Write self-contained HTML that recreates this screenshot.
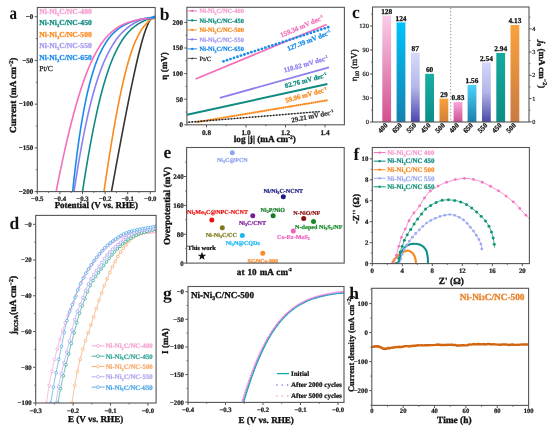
<!DOCTYPE html>
<html><head><meta charset="utf-8"><style>
html,body{margin:0;padding:0;background:#fff;}
svg{display:block;font-family:"Liberation Serif", serif;text-rendering:geometricPrecision;filter:blur(0.3px);}
</style></head><body>
<svg width="550" height="430" viewBox="0 0 550 430">
<rect width="550" height="430" fill="#fff"/>
<text transform="translate(9.6,18.7) scale(0.86,1.03)" font-size="17.5" fill="#111" font-weight="bold">a</text>
<line x1="34.70" y1="16.70" x2="37.30" y2="16.70" stroke="#555" stroke-width="1" />
<text x="33.30" y="18.80" font-size="7.0" text-anchor="end" fill="#222" stroke="#222" stroke-width="0.245" font-weight="bold" >−0</text>
<line x1="34.70" y1="60.42" x2="37.30" y2="60.42" stroke="#555" stroke-width="1" />
<text x="33.30" y="62.52" font-size="7.0" text-anchor="end" fill="#222" stroke="#222" stroke-width="0.245" font-weight="bold" >−50</text>
<line x1="34.70" y1="104.15" x2="37.30" y2="104.15" stroke="#555" stroke-width="1" />
<text x="33.30" y="106.25" font-size="7.0" text-anchor="end" fill="#222" stroke="#222" stroke-width="0.245" font-weight="bold" >−100</text>
<line x1="34.70" y1="147.88" x2="37.30" y2="147.88" stroke="#555" stroke-width="1" />
<text x="33.30" y="149.97" font-size="7.0" text-anchor="end" fill="#222" stroke="#222" stroke-width="0.245" font-weight="bold" >−150</text>
<line x1="34.70" y1="191.60" x2="37.30" y2="191.60" stroke="#555" stroke-width="1" />
<text x="33.30" y="193.70" font-size="7.0" text-anchor="end" fill="#222" stroke="#222" stroke-width="0.245" font-weight="bold" >−200</text>
<line x1="35.80" y1="38.56" x2="37.30" y2="38.56" stroke="#555" stroke-width="0.8" />
<line x1="35.80" y1="82.29" x2="37.30" y2="82.29" stroke="#555" stroke-width="0.8" />
<line x1="35.80" y1="126.01" x2="37.30" y2="126.01" stroke="#555" stroke-width="0.8" />
<line x1="35.80" y1="169.74" x2="37.30" y2="169.74" stroke="#555" stroke-width="0.8" />
<line x1="37.30" y1="191.60" x2="37.30" y2="194.20" stroke="#555" stroke-width="1" />
<text x="37.30" y="200.60" font-size="6.8" text-anchor="middle" fill="#222" stroke="#222" stroke-width="0.238" font-weight="bold" >−0.5</text>
<line x1="59.90" y1="191.60" x2="59.90" y2="194.20" stroke="#555" stroke-width="1" />
<text x="59.90" y="200.60" font-size="6.8" text-anchor="middle" fill="#222" stroke="#222" stroke-width="0.238" font-weight="bold" >−0.4</text>
<line x1="82.50" y1="191.60" x2="82.50" y2="194.20" stroke="#555" stroke-width="1" />
<text x="82.50" y="200.60" font-size="6.8" text-anchor="middle" fill="#222" stroke="#222" stroke-width="0.238" font-weight="bold" >−0.3</text>
<line x1="105.10" y1="191.60" x2="105.10" y2="194.20" stroke="#555" stroke-width="1" />
<text x="105.10" y="200.60" font-size="6.8" text-anchor="middle" fill="#222" stroke="#222" stroke-width="0.238" font-weight="bold" >−0.2</text>
<line x1="127.70" y1="191.60" x2="127.70" y2="194.20" stroke="#555" stroke-width="1" />
<text x="127.70" y="200.60" font-size="6.8" text-anchor="middle" fill="#222" stroke="#222" stroke-width="0.238" font-weight="bold" >−0.1</text>
<line x1="150.30" y1="191.60" x2="150.30" y2="194.20" stroke="#555" stroke-width="1" />
<text x="150.30" y="200.60" font-size="6.8" text-anchor="middle" fill="#222" stroke="#222" stroke-width="0.238" font-weight="bold" >−0.0</text>
<line x1="48.60" y1="191.60" x2="48.60" y2="193.10" stroke="#555" stroke-width="0.8" />
<line x1="71.20" y1="191.60" x2="71.20" y2="193.10" stroke="#555" stroke-width="0.8" />
<line x1="93.80" y1="191.60" x2="93.80" y2="193.10" stroke="#555" stroke-width="0.8" />
<line x1="116.40" y1="191.60" x2="116.40" y2="193.10" stroke="#555" stroke-width="0.8" />
<line x1="139.00" y1="191.60" x2="139.00" y2="193.10" stroke="#555" stroke-width="0.8" />
<text x="96.30" y="208.40" font-size="9" text-anchor="middle" fill="#111" stroke="#111" stroke-width="0.315" font-weight="bold" >Potential (V vs. RHE)</text>
<text transform="translate(16,95.3) rotate(-90)" font-size="9.3" text-anchor="middle" fill="#111" font-weight="bold" stroke="#111" stroke-width="0.326">Current (mA cm<tspan font-size="6" dy="-3.5">−2</tspan><tspan dy="3.5">)</tspan></text>
<clipPath id="ca"><rect x="37.3" y="7.5" width="117.89999999999999" height="184.1"/></clipPath>
<g clip-path="url(#ca)">
<path d="M111.42,191.80 L111.78,189.80 L112.14,187.80 L112.50,185.80 L112.87,183.80 L113.23,181.80 L113.59,179.80 L113.96,177.80 L114.32,175.80 L114.68,173.80 L115.05,171.80 L115.42,169.80 L115.78,167.80 L116.15,165.80 L116.52,163.80 L116.89,161.80 L117.25,159.80 L117.62,157.80 L117.99,155.80 L118.37,153.80 L118.74,151.80 L119.11,149.80 L119.48,147.80 L119.86,145.80 L120.23,143.80 L120.61,141.80 L120.98,139.80 L121.36,137.80 L121.74,135.80 L122.12,133.80 L122.50,131.80 L122.88,129.80 L123.26,127.80 L123.64,125.80 L124.03,123.80 L124.41,121.80 L124.80,119.80 L125.19,117.80 L125.58,115.80 L125.97,113.80 L126.36,111.80 L126.75,109.80 L127.15,107.80 L127.54,105.80 L127.94,103.80 L128.34,101.80 L128.74,99.80 L129.15,97.80 L129.55,95.80 L129.96,93.80 L130.37,91.80 L130.78,89.80 L131.19,87.80 L131.61,85.80 L132.03,83.80 L132.45,81.80 L132.88,79.80 L133.30,77.80 L133.74,75.80 L134.17,73.80 L134.61,71.80 L135.05,69.80 L135.50,67.80 L135.95,65.80 L136.41,63.80 L136.87,61.80 L137.34,59.80 L137.57,58.80 L137.81,57.80 L138.05,56.80 L138.29,55.80 L138.53,54.80 L138.78,53.80 L139.03,52.80 L139.27,51.80 L139.53,50.80 L139.78,49.80 L140.04,48.80 L140.30,47.80 L140.56,46.80 L140.82,45.80 L141.09,44.80 L141.36,43.80 L141.64,42.80 L141.91,41.80 L142.20,40.80 L142.48,39.80 L142.78,38.80 L143.07,37.80 L143.37,36.80 L143.68,35.80 L144.00,34.80 L144.32,33.80 L144.64,32.80 L144.98,31.80 L145.33,30.80 L145.68,29.80 L145.83,29.40 L145.98,29.00 L146.13,28.60 L146.28,28.20 L146.43,27.80 L146.59,27.40 L146.74,27.00 L146.91,26.60 L147.07,26.20 L147.24,25.80 L147.41,25.40 L147.58,25.00 L147.75,24.60 L147.93,24.20 L148.12,23.80 L148.30,23.40 L148.50,23.00 L148.69,22.60 L148.90,22.20 L149.10,21.80 L149.32,21.40 L149.54,21.00 L149.76,20.60 L150.00,20.20 L150.24,19.80 L150.49,19.40 L150.76,19.00 L151.03,18.60 L156.00,17.60" fill="none" stroke="#333" stroke-width="1.6" stroke-linejoin="round"/>
<path d="M103.94,191.80 L104.23,189.80 L104.52,187.80 L104.81,185.80 L105.10,183.80 L105.40,181.80 L105.69,179.80 L105.99,177.80 L106.29,175.80 L106.59,173.80 L106.89,171.80 L107.19,169.80 L107.50,167.80 L107.81,165.80 L108.11,163.80 L108.42,161.80 L108.74,159.80 L109.05,157.80 L109.36,155.80 L109.68,153.80 L110.00,151.80 L110.32,149.80 L110.65,147.80 L110.97,145.80 L111.30,143.80 L111.63,141.80 L111.96,139.80 L112.30,137.80 L112.63,135.80 L112.98,133.80 L113.32,131.80 L113.66,129.80 L114.01,127.80 L114.36,125.80 L114.72,123.80 L115.08,121.80 L115.44,119.80 L115.80,117.80 L116.17,115.80 L116.54,113.80 L116.92,111.80 L117.30,109.80 L117.68,107.80 L118.07,105.80 L118.47,103.80 L118.86,101.80 L119.27,99.80 L119.67,97.80 L120.09,95.80 L120.51,93.80 L120.93,91.80 L121.36,89.80 L121.80,87.80 L122.25,85.80 L122.70,83.80 L123.16,81.80 L123.63,79.80 L124.11,77.80 L124.59,75.80 L125.09,73.80 L125.60,71.80 L126.12,69.80 L126.65,67.80 L127.19,65.80 L127.75,63.80 L128.32,61.80 L128.91,59.80 L129.21,58.80 L129.52,57.80 L129.83,56.80 L130.14,55.80 L130.46,54.80 L130.79,53.80 L131.12,52.80 L131.46,51.80 L131.80,50.80 L132.15,49.80 L132.51,48.80 L132.87,47.80 L133.25,46.80 L133.63,45.80 L134.02,44.80 L134.42,43.80 L134.83,42.80 L135.25,41.80 L135.68,40.80 L136.12,39.80 L136.58,38.80 L137.05,37.80 L137.54,36.80 L138.04,35.80 L138.56,34.80 L139.10,33.80 L139.66,32.80 L140.24,31.80 L140.85,30.80 L141.49,29.80 L141.75,29.40 L142.02,29.00 L142.30,28.60 L142.58,28.20 L142.86,27.80 L143.16,27.40 L143.46,27.00 L143.76,26.60 L144.08,26.20 L144.40,25.80 L144.73,25.40 L145.07,25.00 L145.42,24.60 L145.78,24.20 L146.15,23.80 L146.53,23.40 L146.93,23.00 L147.34,22.60 L147.76,22.20 L148.20,21.80 L148.65,21.40 L149.12,21.00 L149.62,20.60 L150.13,20.20 L150.67,19.80 L151.23,19.40 L151.83,19.00 L156.00,17.60" fill="none" stroke="#FA8A1E" stroke-width="1.6" stroke-linejoin="round"/>
<path d="M82.50,191.80 L82.80,189.80 L83.11,187.80 L83.41,185.80 L83.72,183.80 L84.03,181.80 L84.35,179.80 L84.67,177.80 L84.98,175.80 L85.31,173.80 L85.63,171.80 L85.96,169.80 L86.28,167.80 L86.62,165.80 L86.95,163.80 L87.29,161.80 L87.63,159.80 L87.97,157.80 L88.32,155.80 L88.67,153.80 L89.02,151.80 L89.38,149.80 L89.73,147.80 L90.10,145.80 L90.46,143.80 L90.84,141.80 L91.21,139.80 L91.59,137.80 L91.97,135.80 L92.36,133.80 L92.75,131.80 L93.14,129.80 L93.54,127.80 L93.95,125.80 L94.36,123.80 L94.78,121.80 L95.20,119.80 L95.62,117.80 L96.06,115.80 L96.50,113.80 L96.94,111.80 L97.39,109.80 L97.85,107.80 L98.32,105.80 L98.79,103.80 L99.27,101.80 L99.76,99.80 L100.26,97.80 L100.77,95.80 L101.29,93.80 L101.81,91.80 L102.35,89.80 L102.90,87.80 L103.46,85.80 L104.03,83.80 L104.62,81.80 L105.22,79.80 L105.83,77.80 L106.46,75.80 L107.10,73.80 L107.77,71.80 L108.45,69.80 L109.15,67.80 L109.88,65.80 L110.62,63.80 L111.40,61.80 L112.20,59.80 L112.61,58.80 L113.03,57.80 L113.46,56.80 L113.89,55.80 L114.34,54.80 L114.79,53.80 L115.25,52.80 L115.73,51.80 L116.21,50.80 L116.71,49.80 L117.22,48.80 L117.74,47.80 L118.28,46.80 L118.83,45.80 L119.39,44.80 L119.98,43.80 L120.57,42.80 L121.19,41.80 L121.83,40.80 L122.49,39.80 L123.17,38.80 L123.88,37.80 L124.62,36.80 L125.38,35.80 L126.18,34.80 L127.01,33.80 L127.88,32.80 L128.80,31.80 L129.76,30.80 L130.77,29.80 L131.20,29.40 L131.63,29.00 L132.07,28.60 L132.53,28.20 L132.99,27.80 L133.47,27.40 L133.97,27.00 L134.47,26.60 L135.00,26.20 L135.53,25.80 L136.09,25.40 L136.66,25.00 L137.25,24.60 L137.87,24.20 L138.50,23.80 L139.16,23.40 L139.85,23.00 L140.56,22.60 L141.31,22.20 L142.09,21.80 L142.90,21.40 L143.76,21.00 L144.66,20.60 L145.62,20.20 L146.63,19.80 L147.70,19.40 L148.85,19.00 L150.09,18.60 L156.00,17.60" fill="none" stroke="#0F8A82" stroke-width="1.6" stroke-linejoin="round"/>
<path d="M74.01,191.80 L74.31,189.80 L74.61,187.80 L74.91,185.80 L75.21,183.80 L75.52,181.80 L75.83,179.80 L76.15,177.80 L76.46,175.80 L76.78,173.80 L77.10,171.80 L77.43,169.80 L77.76,167.80 L78.09,165.80 L78.42,163.80 L78.76,161.80 L79.10,159.80 L79.45,157.80 L79.80,155.80 L80.15,153.80 L80.50,151.80 L80.86,149.80 L81.23,147.80 L81.60,145.80 L81.97,143.80 L82.34,141.80 L82.73,139.80 L83.11,137.80 L83.50,135.80 L83.90,133.80 L84.30,131.80 L84.71,129.80 L85.12,127.80 L85.54,125.80 L85.96,123.80 L86.39,121.80 L86.82,119.80 L87.27,117.80 L87.72,115.80 L88.17,113.80 L88.64,111.80 L89.11,109.80 L89.59,107.80 L90.08,105.80 L90.57,103.80 L91.08,101.80 L91.59,99.80 L92.12,97.80 L92.66,95.80 L93.20,93.80 L93.76,91.80 L94.33,89.80 L94.91,87.80 L95.51,85.80 L96.12,83.80 L96.74,81.80 L97.39,79.80 L98.04,77.80 L98.72,75.80 L99.41,73.80 L100.13,71.80 L100.86,69.80 L101.62,67.80 L102.40,65.80 L103.21,63.80 L104.05,61.80 L104.92,59.80 L105.37,58.80 L105.82,57.80 L106.29,56.80 L106.76,55.80 L107.25,54.80 L107.74,53.80 L108.25,52.80 L108.77,51.80 L109.30,50.80 L109.84,49.80 L110.39,48.80 L110.96,47.80 L111.55,46.80 L112.15,45.80 L112.77,44.80 L113.40,43.80 L114.06,42.80 L114.73,41.80 L115.43,40.80 L116.14,39.80 L116.89,38.80 L117.66,37.80 L118.46,36.80 L119.29,35.80 L120.15,34.80 L121.05,33.80 L122.00,32.80 L122.98,31.80 L124.02,30.80 L125.11,29.80 L125.56,29.40 L126.02,29.00 L126.49,28.60 L126.98,28.20 L127.47,27.80 L127.98,27.40 L128.50,27.00 L129.04,26.60 L129.59,26.20 L130.15,25.80 L130.73,25.40 L131.33,25.00 L131.95,24.60 L132.58,24.20 L133.24,23.80 L133.91,23.40 L134.62,23.00 L135.34,22.60 L136.10,22.20 L136.88,21.80 L137.69,21.40 L138.54,21.00 L139.43,20.60 L140.36,20.20 L141.34,19.80 L142.36,19.40 L143.44,19.00 L144.59,18.60 L156.00,17.60" fill="none" stroke="#8C7FEE" stroke-width="1.6" stroke-linejoin="round"/>
<path d="M72.63,191.80 L72.84,189.80 L73.05,187.80 L73.26,185.80 L73.47,183.80 L73.69,181.80 L73.91,179.80 L74.13,177.80 L74.36,175.80 L74.59,173.80 L74.82,171.80 L75.05,169.80 L75.29,167.80 L75.53,165.80 L75.77,163.80 L76.02,161.80 L76.26,159.80 L76.52,157.80 L76.77,155.80 L77.03,153.80 L77.29,151.80 L77.56,149.80 L77.83,147.80 L78.11,145.80 L78.38,143.80 L78.67,141.80 L78.95,139.80 L79.24,137.80 L79.54,135.80 L79.84,133.80 L80.15,131.80 L80.46,129.80 L80.77,127.80 L81.10,125.80 L81.42,123.80 L81.76,121.80 L82.10,119.80 L82.44,117.80 L82.79,115.80 L83.15,113.80 L83.52,111.80 L83.89,109.80 L84.28,107.80 L84.67,105.80 L85.06,103.80 L85.47,101.80 L85.89,99.80 L86.32,97.80 L86.75,95.80 L87.20,93.80 L87.66,91.80 L88.13,89.80 L88.61,87.80 L89.11,85.80 L89.62,83.80 L90.15,81.80 L90.69,79.80 L91.25,77.80 L91.82,75.80 L92.42,73.80 L93.03,71.80 L93.67,69.80 L94.33,67.80 L95.02,65.80 L95.73,63.80 L96.48,61.80 L97.26,59.80 L97.66,58.80 L98.07,57.80 L98.49,56.80 L98.92,55.80 L99.36,54.80 L99.81,53.80 L100.28,52.80 L100.76,51.80 L101.25,50.80 L101.75,49.80 L102.27,48.80 L102.81,47.80 L103.36,46.80 L103.93,45.80 L104.52,44.80 L105.13,43.80 L105.76,42.80 L106.42,41.80 L107.10,40.80 L107.81,39.80 L108.55,38.80 L109.32,37.80 L110.12,36.80 L110.97,35.80 L111.86,34.80 L112.79,33.80 L113.78,32.80 L114.83,31.80 L115.94,30.80 L117.14,29.80 L117.64,29.40 L118.15,29.00 L118.68,28.60 L119.23,28.20 L119.80,27.80 L120.38,27.40 L120.99,27.00 L121.61,26.60 L122.26,26.20 L122.94,25.80 L123.64,25.40 L124.37,25.00 L125.14,24.60 L125.94,24.20 L126.78,23.80 L127.66,23.40 L128.59,23.00 L129.57,22.60 L130.61,22.20 L131.72,21.80 L132.90,21.40 L134.17,21.00 L135.54,20.60 L137.03,20.20 L138.65,19.80 L140.45,19.40 L142.46,19.00 L144.72,18.60 L156.00,17.60" fill="none" stroke="#1A8BEA" stroke-width="1.6" stroke-linejoin="round"/>
<path d="M56.06,191.80 L56.45,189.80 L56.85,187.80 L57.25,185.80 L57.65,183.80 L58.05,181.80 L58.46,179.80 L58.86,177.80 L59.28,175.80 L59.69,173.80 L60.10,171.80 L60.52,169.80 L60.94,167.80 L61.37,165.80 L61.79,163.80 L62.22,161.80 L62.65,159.80 L63.09,157.80 L63.53,155.80 L63.97,153.80 L64.41,151.80 L64.86,149.80 L65.31,147.80 L65.77,145.80 L66.23,143.80 L66.69,141.80 L67.16,139.80 L67.63,137.80 L68.11,135.80 L68.59,133.80 L69.07,131.80 L69.56,129.80 L70.06,127.80 L70.56,125.80 L71.06,123.80 L71.57,121.80 L72.09,119.80 L72.61,117.80 L73.14,115.80 L73.68,113.80 L74.22,111.80 L74.77,109.80 L75.32,107.80 L75.89,105.80 L76.46,103.80 L77.04,101.80 L77.63,99.80 L78.22,97.80 L78.83,95.80 L79.45,93.80 L80.08,91.80 L80.72,89.80 L81.37,87.80 L82.03,85.80 L82.71,83.80 L83.40,81.80 L84.10,79.80 L84.83,77.80 L85.56,75.80 L86.32,73.80 L87.10,71.80 L87.89,69.80 L88.71,67.80 L89.56,65.80 L90.43,63.80 L91.33,61.80 L92.26,59.80 L92.73,58.80 L93.22,57.80 L93.72,56.80 L94.22,55.80 L94.74,54.80 L95.26,53.80 L95.80,52.80 L96.35,51.80 L96.92,50.80 L97.49,49.80 L98.08,48.80 L98.69,47.80 L99.31,46.80 L99.95,45.80 L100.61,44.80 L101.29,43.80 L101.99,42.80 L102.72,41.80 L103.47,40.80 L104.24,39.80 L105.05,38.80 L105.89,37.80 L106.76,36.80 L107.68,35.80 L108.64,34.80 L109.64,33.80 L110.70,32.80 L111.82,31.80 L113.02,30.80 L114.29,29.80 L114.82,29.40 L115.37,29.00 L115.94,28.60 L116.52,28.20 L117.12,27.80 L117.75,27.40 L118.40,27.00 L119.07,26.60 L119.76,26.20 L120.49,25.80 L121.24,25.40 L122.03,25.00 L122.86,24.60 L123.73,24.20 L124.64,23.80 L125.61,23.40 L126.63,23.00 L127.72,22.60 L128.88,22.20 L130.12,21.80 L131.47,21.40 L132.93,21.00 L134.53,20.60 L136.30,20.20 L138.29,19.80 L140.55,19.40 L143.18,19.00 L146.31,18.60 L156.00,17.60" fill="none" stroke="#F46FB8" stroke-width="1.6" stroke-linejoin="round"/>
<polygon points="146,18.3 155.5,15.3 155.5,18.6" fill="#1A8BEA"/>
</g>
<rect x="37.30" y="7.50" width="117.90" height="184.10" fill="none" stroke="#555" stroke-width="1.1"/>
<text x="39.20" y="13.60" font-size="7.6" text-anchor="start" fill="#F59BCF" stroke="#F59BCF" stroke-width="0.266" font-weight="bold" >Ni-Ni<tspan font-size="4.71" dy="1.90">3</tspan><tspan dy="-1.90">C/NC-400</tspan></text>
<text x="39.20" y="25.15" font-size="7.6" text-anchor="start" fill="#0F8A82" stroke="#0F8A82" stroke-width="0.266" font-weight="bold" >Ni-Ni<tspan font-size="4.71" dy="1.90">3</tspan><tspan dy="-1.90">C/NC-450</tspan></text>
<text x="39.20" y="36.70" font-size="7.6" text-anchor="start" fill="#FA8A1E" stroke="#FA8A1E" stroke-width="0.266" font-weight="bold" >Ni-Ni<tspan font-size="4.71" dy="1.90">3</tspan><tspan dy="-1.90">C/NC-500</tspan></text>
<text x="39.20" y="48.25" font-size="7.6" text-anchor="start" fill="#A39AF0" stroke="#A39AF0" stroke-width="0.266" font-weight="bold" >Ni-Ni<tspan font-size="4.71" dy="1.90">3</tspan><tspan dy="-1.90">C/NC-550</tspan></text>
<text x="39.20" y="59.80" font-size="7.6" text-anchor="start" fill="#1A8BEA" stroke="#1A8BEA" stroke-width="0.266" font-weight="bold" >Ni-Ni<tspan font-size="4.71" dy="1.90">3</tspan><tspan dy="-1.90">C/NC-650</tspan></text>
<text x="39.20" y="71.35" font-size="7.6" text-anchor="start" fill="#222" stroke="#222" stroke-width="0.266" font-weight="normal" >Pt/C</text>
<text x="159.70" y="20.00" font-size="17.5" text-anchor="start" fill="#111" stroke="#111" stroke-width="0.000" font-weight="bold" >b</text>
<line x1="184.30" y1="124.80" x2="186.90" y2="124.80" stroke="#555" stroke-width="1" />
<text x="182.90" y="127.20" font-size="7.0" text-anchor="end" fill="#222" stroke="#222" stroke-width="0.245" font-weight="bold" >0</text>
<line x1="184.30" y1="99.20" x2="186.90" y2="99.20" stroke="#555" stroke-width="1" />
<text x="182.90" y="101.60" font-size="7.0" text-anchor="end" fill="#222" stroke="#222" stroke-width="0.245" font-weight="bold" >50</text>
<line x1="184.30" y1="73.60" x2="186.90" y2="73.60" stroke="#555" stroke-width="1" />
<text x="182.90" y="76.00" font-size="7.0" text-anchor="end" fill="#222" stroke="#222" stroke-width="0.245" font-weight="bold" >100</text>
<line x1="184.30" y1="48.00" x2="186.90" y2="48.00" stroke="#555" stroke-width="1" />
<text x="182.90" y="50.40" font-size="7.0" text-anchor="end" fill="#222" stroke="#222" stroke-width="0.245" font-weight="bold" >150</text>
<line x1="184.30" y1="22.40" x2="186.90" y2="22.40" stroke="#555" stroke-width="1" />
<text x="182.90" y="24.80" font-size="7.0" text-anchor="end" fill="#222" stroke="#222" stroke-width="0.245" font-weight="bold" >200</text>
<line x1="185.40" y1="112.00" x2="186.90" y2="112.00" stroke="#555" stroke-width="0.8" />
<line x1="185.40" y1="86.40" x2="186.90" y2="86.40" stroke="#555" stroke-width="0.8" />
<line x1="185.40" y1="60.80" x2="186.90" y2="60.80" stroke="#555" stroke-width="0.8" />
<line x1="185.40" y1="35.20" x2="186.90" y2="35.20" stroke="#555" stroke-width="0.8" />
<line x1="206.50" y1="124.80" x2="206.50" y2="127.40" stroke="#555" stroke-width="1" />
<text x="206.50" y="134.90" font-size="7.3" text-anchor="middle" fill="#222" stroke="#222" stroke-width="0.256" font-weight="bold" >0.8</text>
<line x1="246.00" y1="124.80" x2="246.00" y2="127.40" stroke="#555" stroke-width="1" />
<text x="246.00" y="134.90" font-size="7.3" text-anchor="middle" fill="#222" stroke="#222" stroke-width="0.256" font-weight="bold" >1.0</text>
<line x1="285.50" y1="124.80" x2="285.50" y2="127.40" stroke="#555" stroke-width="1" />
<text x="285.50" y="134.90" font-size="7.3" text-anchor="middle" fill="#222" stroke="#222" stroke-width="0.256" font-weight="bold" >1.2</text>
<line x1="325.00" y1="124.80" x2="325.00" y2="127.40" stroke="#555" stroke-width="1" />
<text x="325.00" y="134.90" font-size="7.3" text-anchor="middle" fill="#222" stroke="#222" stroke-width="0.256" font-weight="bold" >1.4</text>
<line x1="226.25" y1="124.80" x2="226.25" y2="126.30" stroke="#555" stroke-width="0.8" />
<line x1="265.75" y1="124.80" x2="265.75" y2="126.30" stroke="#555" stroke-width="0.8" />
<line x1="305.25" y1="124.80" x2="305.25" y2="126.30" stroke="#555" stroke-width="0.8" />
<text x="264.8" y="142.2" font-size="9.2" text-anchor="middle" fill="#111" font-weight="bold" stroke="#111" stroke-width="0.322">log |j| (mA cm<tspan font-size="5.5" dy="-3.5">-2</tspan><tspan dy="3.5">)</tspan></text>
<text transform="translate(167.1,66) rotate(-90)" font-size="9" text-anchor="middle" fill="#111" font-weight="bold" stroke="#111" stroke-width="0.315">η (mV)</text>
<clipPath id="cb"><rect x="186.9" y="7.3" width="157.49999999999997" height="117.5"/></clipPath>
<g clip-path="url(#cb)">
<line x1="195.60" y1="79.00" x2="326.70" y2="24.50" stroke="#F46FB8" stroke-width="1.8" />
<circle cx="223.50" cy="61.30" r="1.4" fill="#1A8BEA"/>
<circle cx="226.99" cy="60.16" r="1.4" fill="#1A8BEA"/>
<circle cx="230.48" cy="59.03" r="1.4" fill="#1A8BEA"/>
<circle cx="233.97" cy="57.89" r="1.4" fill="#1A8BEA"/>
<circle cx="237.46" cy="56.75" r="1.4" fill="#1A8BEA"/>
<circle cx="240.95" cy="55.62" r="1.4" fill="#1A8BEA"/>
<circle cx="244.44" cy="54.48" r="1.4" fill="#1A8BEA"/>
<circle cx="247.93" cy="53.34" r="1.4" fill="#1A8BEA"/>
<circle cx="251.42" cy="52.21" r="1.4" fill="#1A8BEA"/>
<circle cx="254.91" cy="51.07" r="1.4" fill="#1A8BEA"/>
<circle cx="258.40" cy="49.93" r="1.4" fill="#1A8BEA"/>
<circle cx="261.89" cy="48.80" r="1.4" fill="#1A8BEA"/>
<circle cx="265.38" cy="47.66" r="1.4" fill="#1A8BEA"/>
<circle cx="268.87" cy="46.52" r="1.4" fill="#1A8BEA"/>
<circle cx="272.36" cy="45.39" r="1.4" fill="#1A8BEA"/>
<circle cx="275.85" cy="44.25" r="1.4" fill="#1A8BEA"/>
<circle cx="279.34" cy="43.11" r="1.4" fill="#1A8BEA"/>
<circle cx="282.83" cy="41.98" r="1.4" fill="#1A8BEA"/>
<circle cx="286.32" cy="40.84" r="1.4" fill="#1A8BEA"/>
<circle cx="289.81" cy="39.70" r="1.4" fill="#1A8BEA"/>
<circle cx="293.30" cy="38.57" r="1.4" fill="#1A8BEA"/>
<circle cx="296.79" cy="37.43" r="1.4" fill="#1A8BEA"/>
<circle cx="300.28" cy="36.29" r="1.4" fill="#1A8BEA"/>
<circle cx="303.77" cy="35.16" r="1.4" fill="#1A8BEA"/>
<circle cx="307.26" cy="34.02" r="1.4" fill="#1A8BEA"/>
<circle cx="310.75" cy="32.88" r="1.4" fill="#1A8BEA"/>
<circle cx="314.24" cy="31.75" r="1.4" fill="#1A8BEA"/>
<circle cx="317.73" cy="30.61" r="1.4" fill="#1A8BEA"/>
<circle cx="321.22" cy="29.47" r="1.4" fill="#1A8BEA"/>
<circle cx="324.71" cy="28.34" r="1.4" fill="#1A8BEA"/>
<circle cx="328.20" cy="27.20" r="1.4" fill="#1A8BEA"/>
<line x1="219.90" y1="97.90" x2="329.00" y2="67.30" stroke="#8C7FEE" stroke-width="1.9" />
<line x1="187.00" y1="114.80" x2="327.40" y2="84.00" stroke="#0F8A82" stroke-width="1.9" />
<circle cx="197.10" cy="122.10" r="1.1" fill="#FA8A1E"/>
<circle cx="198.98" cy="121.79" r="1.1" fill="#FA8A1E"/>
<circle cx="200.86" cy="121.47" r="1.1" fill="#FA8A1E"/>
<circle cx="202.73" cy="121.16" r="1.1" fill="#FA8A1E"/>
<circle cx="204.61" cy="120.84" r="1.1" fill="#FA8A1E"/>
<circle cx="206.49" cy="120.53" r="1.1" fill="#FA8A1E"/>
<circle cx="208.37" cy="120.21" r="1.1" fill="#FA8A1E"/>
<circle cx="210.25" cy="119.90" r="1.1" fill="#FA8A1E"/>
<circle cx="212.13" cy="119.58" r="1.1" fill="#FA8A1E"/>
<circle cx="214.00" cy="119.27" r="1.1" fill="#FA8A1E"/>
<circle cx="215.88" cy="118.96" r="1.1" fill="#FA8A1E"/>
<circle cx="217.76" cy="118.64" r="1.1" fill="#FA8A1E"/>
<circle cx="219.64" cy="118.33" r="1.1" fill="#FA8A1E"/>
<circle cx="221.52" cy="118.01" r="1.1" fill="#FA8A1E"/>
<circle cx="223.40" cy="117.70" r="1.1" fill="#FA8A1E"/>
<circle cx="225.27" cy="117.38" r="1.1" fill="#FA8A1E"/>
<circle cx="227.15" cy="117.07" r="1.1" fill="#FA8A1E"/>
<circle cx="229.03" cy="116.75" r="1.1" fill="#FA8A1E"/>
<circle cx="230.91" cy="116.44" r="1.1" fill="#FA8A1E"/>
<circle cx="232.79" cy="116.12" r="1.1" fill="#FA8A1E"/>
<circle cx="234.67" cy="115.81" r="1.1" fill="#FA8A1E"/>
<circle cx="236.54" cy="115.50" r="1.1" fill="#FA8A1E"/>
<circle cx="238.42" cy="115.18" r="1.1" fill="#FA8A1E"/>
<circle cx="240.30" cy="114.87" r="1.1" fill="#FA8A1E"/>
<circle cx="242.18" cy="114.55" r="1.1" fill="#FA8A1E"/>
<circle cx="244.06" cy="114.24" r="1.1" fill="#FA8A1E"/>
<circle cx="245.93" cy="113.92" r="1.1" fill="#FA8A1E"/>
<circle cx="247.81" cy="113.61" r="1.1" fill="#FA8A1E"/>
<circle cx="249.69" cy="113.29" r="1.1" fill="#FA8A1E"/>
<circle cx="251.57" cy="112.98" r="1.1" fill="#FA8A1E"/>
<circle cx="253.45" cy="112.67" r="1.1" fill="#FA8A1E"/>
<circle cx="255.33" cy="112.35" r="1.1" fill="#FA8A1E"/>
<circle cx="257.20" cy="112.04" r="1.1" fill="#FA8A1E"/>
<circle cx="259.08" cy="111.72" r="1.1" fill="#FA8A1E"/>
<circle cx="260.96" cy="111.41" r="1.1" fill="#FA8A1E"/>
<circle cx="262.84" cy="111.09" r="1.1" fill="#FA8A1E"/>
<circle cx="264.72" cy="110.78" r="1.1" fill="#FA8A1E"/>
<circle cx="266.60" cy="110.46" r="1.1" fill="#FA8A1E"/>
<circle cx="268.47" cy="110.15" r="1.1" fill="#FA8A1E"/>
<circle cx="270.35" cy="109.83" r="1.1" fill="#FA8A1E"/>
<circle cx="272.23" cy="109.52" r="1.1" fill="#FA8A1E"/>
<circle cx="274.11" cy="109.21" r="1.1" fill="#FA8A1E"/>
<circle cx="275.99" cy="108.89" r="1.1" fill="#FA8A1E"/>
<circle cx="277.87" cy="108.58" r="1.1" fill="#FA8A1E"/>
<circle cx="279.74" cy="108.26" r="1.1" fill="#FA8A1E"/>
<circle cx="281.62" cy="107.95" r="1.1" fill="#FA8A1E"/>
<circle cx="283.50" cy="107.63" r="1.1" fill="#FA8A1E"/>
<circle cx="285.38" cy="107.32" r="1.1" fill="#FA8A1E"/>
<circle cx="287.26" cy="107.00" r="1.1" fill="#FA8A1E"/>
<circle cx="289.13" cy="106.69" r="1.1" fill="#FA8A1E"/>
<circle cx="291.01" cy="106.38" r="1.1" fill="#FA8A1E"/>
<circle cx="292.89" cy="106.06" r="1.1" fill="#FA8A1E"/>
<circle cx="294.77" cy="105.75" r="1.1" fill="#FA8A1E"/>
<circle cx="296.65" cy="105.43" r="1.1" fill="#FA8A1E"/>
<circle cx="298.53" cy="105.12" r="1.1" fill="#FA8A1E"/>
<circle cx="300.40" cy="104.80" r="1.1" fill="#FA8A1E"/>
<circle cx="302.28" cy="104.49" r="1.1" fill="#FA8A1E"/>
<circle cx="304.16" cy="104.17" r="1.1" fill="#FA8A1E"/>
<circle cx="306.04" cy="103.86" r="1.1" fill="#FA8A1E"/>
<circle cx="307.92" cy="103.54" r="1.1" fill="#FA8A1E"/>
<circle cx="309.80" cy="103.23" r="1.1" fill="#FA8A1E"/>
<circle cx="311.67" cy="102.92" r="1.1" fill="#FA8A1E"/>
<circle cx="313.55" cy="102.60" r="1.1" fill="#FA8A1E"/>
<circle cx="315.43" cy="102.29" r="1.1" fill="#FA8A1E"/>
<circle cx="317.31" cy="101.97" r="1.1" fill="#FA8A1E"/>
<circle cx="319.19" cy="101.66" r="1.1" fill="#FA8A1E"/>
<circle cx="321.07" cy="101.34" r="1.1" fill="#FA8A1E"/>
<circle cx="322.94" cy="101.03" r="1.1" fill="#FA8A1E"/>
<circle cx="324.82" cy="100.71" r="1.1" fill="#FA8A1E"/>
<circle cx="326.70" cy="100.40" r="1.1" fill="#FA8A1E"/>
<line x1="187.00" y1="122.40" x2="319.00" y2="111.60" stroke="#555" stroke-width="0.6" />
<circle cx="189.20" cy="122.20" r="0.85" fill="#222"/>
<circle cx="192.22" cy="121.95" r="0.85" fill="#222"/>
<circle cx="195.24" cy="121.71" r="0.85" fill="#222"/>
<circle cx="198.26" cy="121.46" r="0.85" fill="#222"/>
<circle cx="201.27" cy="121.21" r="0.85" fill="#222"/>
<circle cx="204.29" cy="120.97" r="0.85" fill="#222"/>
<circle cx="207.31" cy="120.72" r="0.85" fill="#222"/>
<circle cx="210.33" cy="120.47" r="0.85" fill="#222"/>
<circle cx="213.35" cy="120.23" r="0.85" fill="#222"/>
<circle cx="216.37" cy="119.98" r="0.85" fill="#222"/>
<circle cx="219.39" cy="119.73" r="0.85" fill="#222"/>
<circle cx="222.40" cy="119.49" r="0.85" fill="#222"/>
<circle cx="225.42" cy="119.24" r="0.85" fill="#222"/>
<circle cx="228.44" cy="119.00" r="0.85" fill="#222"/>
<circle cx="231.46" cy="118.75" r="0.85" fill="#222"/>
<circle cx="234.48" cy="118.50" r="0.85" fill="#222"/>
<circle cx="237.50" cy="118.26" r="0.85" fill="#222"/>
<circle cx="240.52" cy="118.01" r="0.85" fill="#222"/>
<circle cx="243.53" cy="117.76" r="0.85" fill="#222"/>
<circle cx="246.55" cy="117.52" r="0.85" fill="#222"/>
<circle cx="249.57" cy="117.27" r="0.85" fill="#222"/>
<circle cx="252.59" cy="117.02" r="0.85" fill="#222"/>
<circle cx="255.61" cy="116.78" r="0.85" fill="#222"/>
<circle cx="258.63" cy="116.53" r="0.85" fill="#222"/>
<circle cx="261.65" cy="116.28" r="0.85" fill="#222"/>
<circle cx="264.67" cy="116.04" r="0.85" fill="#222"/>
<circle cx="267.68" cy="115.79" r="0.85" fill="#222"/>
<circle cx="270.70" cy="115.54" r="0.85" fill="#222"/>
<circle cx="273.72" cy="115.30" r="0.85" fill="#222"/>
<circle cx="276.74" cy="115.05" r="0.85" fill="#222"/>
<circle cx="279.76" cy="114.80" r="0.85" fill="#222"/>
<circle cx="282.78" cy="114.56" r="0.85" fill="#222"/>
<circle cx="285.80" cy="114.31" r="0.85" fill="#222"/>
<circle cx="288.81" cy="114.07" r="0.85" fill="#222"/>
<circle cx="291.83" cy="113.82" r="0.85" fill="#222"/>
<circle cx="294.85" cy="113.57" r="0.85" fill="#222"/>
<circle cx="297.87" cy="113.33" r="0.85" fill="#222"/>
<circle cx="300.89" cy="113.08" r="0.85" fill="#222"/>
<circle cx="303.91" cy="112.83" r="0.85" fill="#222"/>
<circle cx="306.93" cy="112.59" r="0.85" fill="#222"/>
<circle cx="309.94" cy="112.34" r="0.85" fill="#222"/>
<circle cx="312.96" cy="112.09" r="0.85" fill="#222"/>
<circle cx="315.98" cy="111.85" r="0.85" fill="#222"/>
<circle cx="319.00" cy="111.60" r="0.85" fill="#222"/>
</g>
<rect x="186.90" y="7.30" width="157.50" height="117.50" fill="none" stroke="#555" stroke-width="1.1"/>
<line x1="187.50" y1="10.90" x2="197.00" y2="10.90" stroke="#F46FB8" stroke-width="1" />
<circle cx="192.2" cy="10.9" r="1.2" fill="#F46FB8"/>
<text x="199.60" y="13.20" font-size="6.4" text-anchor="start" fill="#F59BCF" stroke="#F59BCF" stroke-width="0.224" font-weight="bold" >Ni-Ni<tspan font-size="3.97" dy="1.60">3</tspan><tspan dy="-1.60">C/NC-400</tspan></text>
<line x1="187.50" y1="20.40" x2="197.00" y2="20.40" stroke="#0F8A82" stroke-width="1" />
<circle cx="192.2" cy="20.4" r="1.2" fill="#0F8A82"/>
<text x="199.60" y="22.70" font-size="6.4" text-anchor="start" fill="#0F8A82" stroke="#0F8A82" stroke-width="0.224" font-weight="bold" >Ni-Ni<tspan font-size="3.97" dy="1.60">3</tspan><tspan dy="-1.60">C/NC-450</tspan></text>
<line x1="187.50" y1="29.90" x2="197.00" y2="29.90" stroke="#FA8A1E" stroke-width="1" />
<circle cx="192.2" cy="29.9" r="1.2" fill="#FA8A1E"/>
<text x="199.60" y="32.20" font-size="6.4" text-anchor="start" fill="#FA8A1E" stroke="#FA8A1E" stroke-width="0.224" font-weight="bold" >Ni-Ni<tspan font-size="3.97" dy="1.60">3</tspan><tspan dy="-1.60">C/NC-500</tspan></text>
<line x1="187.50" y1="39.40" x2="197.00" y2="39.40" stroke="#8C7FEE" stroke-width="1" />
<circle cx="192.2" cy="39.4" r="1.2" fill="#8C7FEE"/>
<text x="199.60" y="41.70" font-size="6.4" text-anchor="start" fill="#A39AF0" stroke="#A39AF0" stroke-width="0.224" font-weight="bold" >Ni-Ni<tspan font-size="3.97" dy="1.60">3</tspan><tspan dy="-1.60">C/NC-550</tspan></text>
<line x1="187.50" y1="48.90" x2="197.00" y2="48.90" stroke="#1A8BEA" stroke-width="1" />
<circle cx="192.2" cy="48.9" r="1.2" fill="#1A8BEA"/>
<text x="199.60" y="51.20" font-size="6.4" text-anchor="start" fill="#1A8BEA" stroke="#1A8BEA" stroke-width="0.224" font-weight="bold" >Ni-Ni<tspan font-size="3.97" dy="1.60">3</tspan><tspan dy="-1.60">C/NC-650</tspan></text>
<line x1="187.50" y1="58.40" x2="197.00" y2="58.40" stroke="#333" stroke-width="0.8" />
<circle cx="192.2" cy="58.4" r="0.9" fill="#333"/>
<text x="199.60" y="60.70" font-size="6.4" text-anchor="start" fill="#222" stroke="#222" stroke-width="0.224" font-weight="normal" >Pt/C</text>
<text transform="translate(281.6,37.6) rotate(-23.4)" font-size="6.9" fill="#F46FB8" font-weight="bold" stroke="#F46FB8" stroke-width="0.242">159.34 mV dec<tspan font-size="4" dy="-2.5">-1</tspan></text>
<text transform="translate(288.2,51) rotate(-21.5)" font-size="6.9" fill="#1A8BEA" font-weight="bold" stroke="#1A8BEA" stroke-width="0.242">127.39 mV dec<tspan font-size="4" dy="-2.5">-1</tspan></text>
<text transform="translate(284.5,72.6) rotate(-16)" font-size="6.9" fill="#8C7FEE" font-weight="bold" stroke="#8C7FEE" stroke-width="0.242">110.02 mV dec<tspan font-size="4" dy="-2.5">-1</tspan></text>
<text transform="translate(285.6,88.2) rotate(-15)" font-size="6.9" fill="#0F8A82" font-weight="bold" stroke="#0F8A82" stroke-width="0.242">82.76  mV dec<tspan font-size="4" dy="-2.5">-1</tspan></text>
<text transform="translate(285.9,102.7) rotate(-15)" font-size="6.9" fill="#FA8A1E" font-weight="bold" stroke="#FA8A1E" stroke-width="0.242">59.96  mV dec<tspan font-size="4" dy="-2.5">-1</tspan></text>
<text transform="translate(291.8,122.4) rotate(-11)" font-size="6.9" fill="#333" font-weight="bold" stroke="#333" stroke-width="0.242">29.21  mV dec<tspan font-size="4" dy="-2.5">-1</tspan></text>
<text x="351.90" y="17.90" font-size="17.5" text-anchor="start" fill="#111" stroke="#111" stroke-width="0.000" font-weight="bold" >c</text>
<line x1="369.90" y1="122.00" x2="372.50" y2="122.00" stroke="#555" stroke-width="1" />
<text x="368.90" y="124.10" font-size="6.4" text-anchor="end" fill="#222" stroke="#222" stroke-width="0.224" font-weight="normal" >0</text>
<line x1="369.90" y1="98.00" x2="372.50" y2="98.00" stroke="#555" stroke-width="1" />
<text x="368.90" y="100.10" font-size="6.4" text-anchor="end" fill="#222" stroke="#222" stroke-width="0.224" font-weight="normal" >30</text>
<line x1="369.90" y1="74.00" x2="372.50" y2="74.00" stroke="#555" stroke-width="1" />
<text x="368.90" y="76.10" font-size="6.4" text-anchor="end" fill="#222" stroke="#222" stroke-width="0.224" font-weight="normal" >60</text>
<line x1="369.90" y1="50.00" x2="372.50" y2="50.00" stroke="#555" stroke-width="1" />
<text x="368.90" y="52.10" font-size="6.4" text-anchor="end" fill="#222" stroke="#222" stroke-width="0.224" font-weight="normal" >90</text>
<line x1="369.90" y1="26.00" x2="372.50" y2="26.00" stroke="#555" stroke-width="1" />
<text x="368.90" y="28.10" font-size="6.4" text-anchor="end" fill="#222" stroke="#222" stroke-width="0.224" font-weight="normal" >120</text>
<line x1="371.00" y1="110.00" x2="372.50" y2="110.00" stroke="#555" stroke-width="0.8" />
<line x1="371.00" y1="86.00" x2="372.50" y2="86.00" stroke="#555" stroke-width="0.8" />
<line x1="371.00" y1="62.00" x2="372.50" y2="62.00" stroke="#555" stroke-width="0.8" />
<line x1="371.00" y1="38.00" x2="372.50" y2="38.00" stroke="#555" stroke-width="0.8" />
<line x1="371.00" y1="14.00" x2="372.50" y2="14.00" stroke="#555" stroke-width="0.8" />
<line x1="529.00" y1="121.80" x2="531.60" y2="121.80" stroke="#555" stroke-width="1" />
<text x="532.30" y="123.80" font-size="6.2" text-anchor="start" fill="#222" stroke="#222" stroke-width="0.217" font-weight="normal" >0</text>
<line x1="529.00" y1="98.55" x2="531.60" y2="98.55" stroke="#555" stroke-width="1" />
<text x="532.30" y="100.55" font-size="6.2" text-anchor="start" fill="#222" stroke="#222" stroke-width="0.217" font-weight="normal" >1</text>
<line x1="529.00" y1="75.30" x2="531.60" y2="75.30" stroke="#555" stroke-width="1" />
<text x="532.30" y="77.30" font-size="6.2" text-anchor="start" fill="#222" stroke="#222" stroke-width="0.217" font-weight="normal" >2</text>
<line x1="529.00" y1="52.05" x2="531.60" y2="52.05" stroke="#555" stroke-width="1" />
<text x="532.30" y="54.05" font-size="6.2" text-anchor="start" fill="#222" stroke="#222" stroke-width="0.217" font-weight="normal" >3</text>
<line x1="529.00" y1="28.80" x2="531.60" y2="28.80" stroke="#555" stroke-width="1" />
<text x="532.30" y="30.80" font-size="6.2" text-anchor="start" fill="#222" stroke="#222" stroke-width="0.217" font-weight="normal" >4</text>
<line x1="529.00" y1="110.17" x2="530.50" y2="110.17" stroke="#555" stroke-width="0.8" />
<line x1="529.00" y1="86.92" x2="530.50" y2="86.92" stroke="#555" stroke-width="0.8" />
<line x1="529.00" y1="63.67" x2="530.50" y2="63.67" stroke="#555" stroke-width="0.8" />
<line x1="529.00" y1="40.42" x2="530.50" y2="40.42" stroke="#555" stroke-width="0.8" />
<line x1="529.00" y1="17.17" x2="530.50" y2="17.17" stroke="#555" stroke-width="0.8" />
<defs>
<linearGradient id="g400" x1="0" y1="0" x2="0" y2="1"><stop offset="0" stop-color="#FBCDE8"/><stop offset="1" stop-color="#D2508E"/></linearGradient>
<linearGradient id="g650" x1="0" y1="0" x2="0" y2="1"><stop offset="0" stop-color="#00C2FA"/><stop offset="1" stop-color="#1680AE"/></linearGradient>
<linearGradient id="g550" x1="0" y1="0" x2="0" y2="1"><stop offset="0" stop-color="#D6DAF9"/><stop offset="0.5" stop-color="#B4B8EA"/><stop offset="1" stop-color="#4946AE"/></linearGradient>
<linearGradient id="g450" x1="0" y1="0" x2="0" y2="1"><stop offset="0" stop-color="#18AFA6"/><stop offset="1" stop-color="#0C8E86"/></linearGradient>
<linearGradient id="g500" x1="0" y1="0" x2="0" y2="1"><stop offset="0" stop-color="#FBA23E"/><stop offset="1" stop-color="#D08036"/></linearGradient>
<linearGradient id="h400" x1="0" y1="0" x2="0" y2="1"><stop offset="0" stop-color="#F9A6DA"/><stop offset="1" stop-color="#CF5090"/></linearGradient>
<linearGradient id="h650" x1="0" y1="0" x2="0" y2="1"><stop offset="0" stop-color="#4DD2FA"/><stop offset="1" stop-color="#1A80AA"/></linearGradient>
<linearGradient id="h550" x1="0" y1="0" x2="0" y2="1"><stop offset="0" stop-color="#D3D7F9"/><stop offset="0.5" stop-color="#B2B6E8"/><stop offset="1" stop-color="#4A48A8"/></linearGradient>
<linearGradient id="h450" x1="0" y1="0" x2="0" y2="1"><stop offset="0" stop-color="#14AAA0"/><stop offset="1" stop-color="#0C8E86"/></linearGradient>
<linearGradient id="h500" x1="0" y1="0" x2="0" y2="1"><stop offset="0" stop-color="#FBA23E"/><stop offset="1" stop-color="#C87A40"/></linearGradient>
</defs>
<rect x="382.3" y="15.5" width="8.8" height="106.50" fill="url(#g400)"/>
<text x="386.70" y="13.80" font-size="7.4" text-anchor="middle" fill="#111" stroke="#111" stroke-width="0.259" font-weight="bold" >128</text>
<rect x="396.6" y="22.4" width="8.8" height="99.60" fill="url(#g650)"/>
<text x="401.00" y="20.70" font-size="7.4" text-anchor="middle" fill="#111" stroke="#111" stroke-width="0.259" font-weight="bold" >124</text>
<rect x="410.9" y="52.6" width="8.8" height="69.40" fill="url(#g550)"/>
<text x="415.30" y="50.90" font-size="7.4" text-anchor="middle" fill="#111" stroke="#111" stroke-width="0.259" font-weight="bold" >87</text>
<rect x="425.2" y="73.8" width="8.8" height="48.20" fill="url(#g450)"/>
<text x="429.60" y="72.10" font-size="7.4" text-anchor="middle" fill="#111" stroke="#111" stroke-width="0.259" font-weight="bold" >60</text>
<rect x="439.5" y="98.6" width="8.8" height="23.40" fill="url(#g500)"/>
<text x="443.90" y="96.90" font-size="7.4" text-anchor="middle" fill="#111" stroke="#111" stroke-width="0.259" font-weight="bold" >29</text>
<rect x="453.6" y="102" width="8.8" height="20.00" fill="url(#h400)"/>
<text x="458.00" y="100.30" font-size="7.4" text-anchor="middle" fill="#111" stroke="#111" stroke-width="0.259" font-weight="bold" >0.83</text>
<rect x="467.6" y="85" width="8.8" height="37.00" fill="url(#h650)"/>
<text x="472.00" y="83.30" font-size="7.4" text-anchor="middle" fill="#111" stroke="#111" stroke-width="0.259" font-weight="bold" >1.56</text>
<rect x="482" y="62.4" width="8.8" height="59.60" fill="url(#h550)"/>
<text x="486.40" y="60.70" font-size="7.4" text-anchor="middle" fill="#111" stroke="#111" stroke-width="0.259" font-weight="bold" >2.54</text>
<rect x="496.3" y="53" width="8.8" height="69.00" fill="url(#h450)"/>
<text x="500.70" y="51.30" font-size="7.4" text-anchor="middle" fill="#111" stroke="#111" stroke-width="0.259" font-weight="bold" >2.94</text>
<rect x="510.5" y="25" width="8.8" height="97.00" fill="url(#h500)"/>
<text x="514.90" y="23.30" font-size="7.4" text-anchor="middle" fill="#111" stroke="#111" stroke-width="0.259" font-weight="bold" >4.13</text>
<line x1="450.70" y1="8.00" x2="450.70" y2="122.00" stroke="#707070" stroke-width="0.9" stroke-dasharray="1.1 2.15"/>
<rect x="372.50" y="7.00" width="156.50" height="115.00" fill="none" stroke="#555" stroke-width="1.1"/>
<text transform="translate(388.3,125.8) rotate(-45)" font-size="7.2" text-anchor="end" fill="#111" stroke="#111" stroke-width="0.22" font-weight="bold">400</text>
<text transform="translate(402.6,125.8) rotate(-45)" font-size="7.2" text-anchor="end" fill="#111" stroke="#111" stroke-width="0.22" font-weight="bold">650</text>
<text transform="translate(416.9,125.8) rotate(-45)" font-size="7.2" text-anchor="end" fill="#111" stroke="#111" stroke-width="0.22" font-weight="bold">550</text>
<text transform="translate(431.2,125.8) rotate(-45)" font-size="7.2" text-anchor="end" fill="#111" stroke="#111" stroke-width="0.22" font-weight="bold">450</text>
<text transform="translate(445.5,125.8) rotate(-45)" font-size="7.2" text-anchor="end" fill="#111" stroke="#111" stroke-width="0.22" font-weight="bold">500</text>
<text transform="translate(459.6,125.8) rotate(-45)" font-size="7.2" text-anchor="end" fill="#111" stroke="#111" stroke-width="0.22" font-weight="bold">400</text>
<text transform="translate(473.6,125.8) rotate(-45)" font-size="7.2" text-anchor="end" fill="#111" stroke="#111" stroke-width="0.22" font-weight="bold">650</text>
<text transform="translate(488.0,125.8) rotate(-45)" font-size="7.2" text-anchor="end" fill="#111" stroke="#111" stroke-width="0.22" font-weight="bold">550</text>
<text transform="translate(502.3,125.8) rotate(-45)" font-size="7.2" text-anchor="end" fill="#111" stroke="#111" stroke-width="0.22" font-weight="bold">450</text>
<text transform="translate(516.5,125.8) rotate(-45)" font-size="7.2" text-anchor="end" fill="#111" stroke="#111" stroke-width="0.22" font-weight="bold">500</text>
<text transform="translate(356.5,65.2) rotate(-90)" font-size="9" text-anchor="middle" fill="#111" font-weight="normal" stroke="#111" stroke-width="0.315"><tspan font-weight="normal">η</tspan><tspan font-size="5.5" dy="2">10</tspan><tspan dy="-2"> (mV)</tspan></text>
<text transform="translate(539,64.5) rotate(90)" font-size="9" text-anchor="middle" fill="#111" font-weight="bold" stroke="#111" stroke-width="0.315"><tspan font-style="italic">j</tspan><tspan font-size="6" dy="2">0</tspan><tspan dy="-2"> (mA cm</tspan><tspan font-size="6" dy="-3.5">−2</tspan><tspan dy="3.5">)</tspan></text>
<text x="9.40" y="228.50" font-size="17.5" text-anchor="start" fill="#111" stroke="#111" stroke-width="0.000" font-weight="bold" >d</text>
<line x1="33.10" y1="224.30" x2="35.70" y2="224.30" stroke="#555" stroke-width="1" />
<text x="31.70" y="226.70" font-size="6.8" text-anchor="end" fill="#222" stroke="#222" stroke-width="0.238" font-weight="bold" >−0</text>
<line x1="33.10" y1="260.04" x2="35.70" y2="260.04" stroke="#555" stroke-width="1" />
<text x="31.70" y="262.44" font-size="6.8" text-anchor="end" fill="#222" stroke="#222" stroke-width="0.238" font-weight="bold" >−20</text>
<line x1="33.10" y1="295.78" x2="35.70" y2="295.78" stroke="#555" stroke-width="1" />
<text x="31.70" y="298.18" font-size="6.8" text-anchor="end" fill="#222" stroke="#222" stroke-width="0.238" font-weight="bold" >−40</text>
<line x1="33.10" y1="331.52" x2="35.70" y2="331.52" stroke="#555" stroke-width="1" />
<text x="31.70" y="333.92" font-size="6.8" text-anchor="end" fill="#222" stroke="#222" stroke-width="0.238" font-weight="bold" >−60</text>
<line x1="33.10" y1="367.26" x2="35.70" y2="367.26" stroke="#555" stroke-width="1" />
<text x="31.70" y="369.66" font-size="6.8" text-anchor="end" fill="#222" stroke="#222" stroke-width="0.238" font-weight="bold" >−80</text>
<line x1="33.10" y1="403.00" x2="35.70" y2="403.00" stroke="#555" stroke-width="1" />
<text x="31.70" y="405.40" font-size="6.8" text-anchor="end" fill="#222" stroke="#222" stroke-width="0.238" font-weight="bold" >−100</text>
<line x1="34.20" y1="242.17" x2="35.70" y2="242.17" stroke="#555" stroke-width="0.8" />
<line x1="34.20" y1="277.91" x2="35.70" y2="277.91" stroke="#555" stroke-width="0.8" />
<line x1="34.20" y1="313.65" x2="35.70" y2="313.65" stroke="#555" stroke-width="0.8" />
<line x1="34.20" y1="349.39" x2="35.70" y2="349.39" stroke="#555" stroke-width="0.8" />
<line x1="34.20" y1="385.13" x2="35.70" y2="385.13" stroke="#555" stroke-width="0.8" />
<line x1="35.70" y1="403.00" x2="35.70" y2="405.60" stroke="#555" stroke-width="1" />
<text x="35.70" y="412.60" font-size="6.7" text-anchor="middle" fill="#222" stroke="#222" stroke-width="0.235" font-weight="bold" >−0.3</text>
<line x1="73.10" y1="403.00" x2="73.10" y2="405.60" stroke="#555" stroke-width="1" />
<text x="73.10" y="412.60" font-size="6.7" text-anchor="middle" fill="#222" stroke="#222" stroke-width="0.235" font-weight="bold" >−0.2</text>
<line x1="110.50" y1="403.00" x2="110.50" y2="405.60" stroke="#555" stroke-width="1" />
<text x="110.50" y="412.60" font-size="6.7" text-anchor="middle" fill="#222" stroke="#222" stroke-width="0.235" font-weight="bold" >−0.1</text>
<line x1="147.90" y1="403.00" x2="147.90" y2="405.60" stroke="#555" stroke-width="1" />
<text x="147.90" y="412.60" font-size="6.7" text-anchor="middle" fill="#222" stroke="#222" stroke-width="0.235" font-weight="bold" >−0.0</text>
<line x1="54.40" y1="403.00" x2="54.40" y2="404.50" stroke="#555" stroke-width="0.8" />
<line x1="91.80" y1="403.00" x2="91.80" y2="404.50" stroke="#555" stroke-width="0.8" />
<line x1="129.20" y1="403.00" x2="129.20" y2="404.50" stroke="#555" stroke-width="0.8" />
<text x="95.60" y="421.60" font-size="9.1" text-anchor="middle" fill="#111" stroke="#111" stroke-width="0.319" font-weight="bold" >E (V vs. RHE)</text>
<text transform="translate(16.2,305) rotate(-90)" font-size="9.6" text-anchor="middle" fill="#111" font-weight="bold" stroke="#111" stroke-width="0.336">j<tspan font-size="6" dy="2">ECSA</tspan><tspan dy="-2">(uA cm</tspan><tspan font-size="6" dy="-3.5">−2</tspan><tspan dy="3.5">)</tspan></text>
<clipPath id="cd"><rect x="35.7" y="215.4" width="120.39999999999999" height="187.6"/></clipPath>
<g clip-path="url(#cd)">
<path d="M72.00,403.00 C72.63,399.07 74.10,388.02 75.80,379.40 C77.50,370.78 79.40,361.20 82.20,351.30 C85.00,341.40 89.83,328.38 92.60,320.00 C95.37,311.62 96.68,307.10 98.80,301.00 C100.92,294.90 103.20,288.73 105.30,283.40 C107.40,278.07 108.98,274.02 111.40,269.00 C113.82,263.98 116.87,257.93 119.80,253.30 C122.73,248.67 126.47,244.05 129.00,241.20 C131.53,238.35 132.33,237.63 135.00,236.20 C137.67,234.77 141.33,233.47 145.00,232.60 C148.67,231.73 155.00,231.27 157.00,231.00" fill="none" stroke="#F8A868" stroke-width="0.7" />
<circle cx="72.00" cy="403.00" r="1.35" fill="#fff" stroke="#F8A868" stroke-width="0.8"/>
<circle cx="74.70" cy="385.45" r="1.35" fill="#fff" stroke="#F8A868" stroke-width="0.8"/>
<circle cx="77.40" cy="371.42" r="1.35" fill="#fff" stroke="#F8A868" stroke-width="0.8"/>
<circle cx="80.10" cy="359.30" r="1.35" fill="#fff" stroke="#F8A868" stroke-width="0.8"/>
<circle cx="82.80" cy="349.23" r="1.35" fill="#fff" stroke="#F8A868" stroke-width="0.8"/>
<circle cx="85.50" cy="340.73" r="1.35" fill="#fff" stroke="#F8A868" stroke-width="0.8"/>
<circle cx="88.20" cy="332.80" r="1.35" fill="#fff" stroke="#F8A868" stroke-width="0.8"/>
<circle cx="90.90" cy="325.02" r="1.35" fill="#fff" stroke="#F8A868" stroke-width="0.8"/>
<circle cx="93.60" cy="316.95" r="1.35" fill="#fff" stroke="#F8A868" stroke-width="0.8"/>
<circle cx="96.30" cy="308.53" r="1.35" fill="#fff" stroke="#F8A868" stroke-width="0.8"/>
<circle cx="99.00" cy="300.42" r="1.35" fill="#fff" stroke="#F8A868" stroke-width="0.8"/>
<circle cx="101.70" cy="292.88" r="1.35" fill="#fff" stroke="#F8A868" stroke-width="0.8"/>
<circle cx="104.40" cy="285.71" r="1.35" fill="#fff" stroke="#F8A868" stroke-width="0.8"/>
<circle cx="107.10" cy="278.85" r="1.35" fill="#fff" stroke="#F8A868" stroke-width="0.8"/>
<circle cx="109.80" cy="272.44" r="1.35" fill="#fff" stroke="#F8A868" stroke-width="0.8"/>
<circle cx="112.50" cy="266.74" r="1.35" fill="#fff" stroke="#F8A868" stroke-width="0.8"/>
<circle cx="115.20" cy="261.40" r="1.35" fill="#fff" stroke="#F8A868" stroke-width="0.8"/>
<circle cx="117.90" cy="256.46" r="1.35" fill="#fff" stroke="#F8A868" stroke-width="0.8"/>
<circle cx="120.60" cy="252.07" r="1.35" fill="#fff" stroke="#F8A868" stroke-width="0.8"/>
<circle cx="123.30" cy="248.23" r="1.35" fill="#fff" stroke="#F8A868" stroke-width="0.8"/>
<circle cx="126.00" cy="244.75" r="1.35" fill="#fff" stroke="#F8A868" stroke-width="0.8"/>
<circle cx="128.70" cy="241.54" r="1.35" fill="#fff" stroke="#F8A868" stroke-width="0.8"/>
<circle cx="131.40" cy="238.66" r="1.35" fill="#fff" stroke="#F8A868" stroke-width="0.8"/>
<circle cx="134.10" cy="236.70" r="1.35" fill="#fff" stroke="#F8A868" stroke-width="0.8"/>
<circle cx="136.80" cy="235.32" r="1.35" fill="#fff" stroke="#F8A868" stroke-width="0.8"/>
<circle cx="139.50" cy="234.23" r="1.35" fill="#fff" stroke="#F8A868" stroke-width="0.8"/>
<circle cx="142.20" cy="233.35" r="1.35" fill="#fff" stroke="#F8A868" stroke-width="0.8"/>
<circle cx="144.90" cy="232.62" r="1.35" fill="#fff" stroke="#F8A868" stroke-width="0.8"/>
<circle cx="147.60" cy="232.11" r="1.35" fill="#fff" stroke="#F8A868" stroke-width="0.8"/>
<circle cx="150.30" cy="231.73" r="1.35" fill="#fff" stroke="#F8A868" stroke-width="0.8"/>
<circle cx="153.00" cy="231.43" r="1.35" fill="#fff" stroke="#F8A868" stroke-width="0.8"/>
<circle cx="155.70" cy="231.15" r="1.35" fill="#fff" stroke="#F8A868" stroke-width="0.8"/>
<path d="M46.40,403.00 C47.03,399.07 48.50,388.02 50.20,379.40 C51.90,370.78 54.05,360.87 56.60,351.30 C59.15,341.73 62.62,330.30 65.50,322.00 C68.38,313.70 71.25,308.08 73.90,301.50 C76.55,294.92 78.53,288.45 81.40,282.50 C84.27,276.55 87.30,271.35 91.10,265.80 C94.90,260.25 99.72,253.77 104.20,249.20 C108.68,244.63 113.87,240.93 118.00,238.40 C122.13,235.87 125.33,234.98 129.00,234.00 C132.67,233.02 135.33,232.90 140.00,232.50 C144.67,232.10 154.17,231.75 157.00,231.60" fill="none" stroke="#F6A2D2" stroke-width="0.7" />
<circle cx="46.40" cy="403.00" r="1.35" fill="#fff" stroke="#F6A2D2" stroke-width="0.8"/>
<circle cx="49.10" cy="385.45" r="1.35" fill="#fff" stroke="#F6A2D2" stroke-width="0.8"/>
<circle cx="51.80" cy="371.58" r="1.35" fill="#fff" stroke="#F6A2D2" stroke-width="0.8"/>
<circle cx="54.50" cy="359.60" r="1.35" fill="#fff" stroke="#F6A2D2" stroke-width="0.8"/>
<circle cx="57.20" cy="349.08" r="1.35" fill="#fff" stroke="#F6A2D2" stroke-width="0.8"/>
<circle cx="59.90" cy="339.60" r="1.35" fill="#fff" stroke="#F6A2D2" stroke-width="0.8"/>
<circle cx="62.60" cy="330.77" r="1.35" fill="#fff" stroke="#F6A2D2" stroke-width="0.8"/>
<circle cx="65.30" cy="322.58" r="1.35" fill="#fff" stroke="#F6A2D2" stroke-width="0.8"/>
<circle cx="68.00" cy="315.37" r="1.35" fill="#fff" stroke="#F6A2D2" stroke-width="0.8"/>
<circle cx="70.70" cy="309.01" r="1.35" fill="#fff" stroke="#F6A2D2" stroke-width="0.8"/>
<circle cx="73.40" cy="302.73" r="1.35" fill="#fff" stroke="#F6A2D2" stroke-width="0.8"/>
<circle cx="76.10" cy="295.74" r="1.35" fill="#fff" stroke="#F6A2D2" stroke-width="0.8"/>
<circle cx="78.80" cy="288.53" r="1.35" fill="#fff" stroke="#F6A2D2" stroke-width="0.8"/>
<circle cx="81.50" cy="282.29" r="1.35" fill="#fff" stroke="#F6A2D2" stroke-width="0.8"/>
<circle cx="84.20" cy="277.03" r="1.35" fill="#fff" stroke="#F6A2D2" stroke-width="0.8"/>
<circle cx="86.90" cy="272.31" r="1.35" fill="#fff" stroke="#F6A2D2" stroke-width="0.8"/>
<circle cx="89.60" cy="268.03" r="1.35" fill="#fff" stroke="#F6A2D2" stroke-width="0.8"/>
<circle cx="92.30" cy="264.07" r="1.35" fill="#fff" stroke="#F6A2D2" stroke-width="0.8"/>
<circle cx="95.00" cy="260.30" r="1.35" fill="#fff" stroke="#F6A2D2" stroke-width="0.8"/>
<circle cx="97.70" cy="256.74" r="1.35" fill="#fff" stroke="#F6A2D2" stroke-width="0.8"/>
<circle cx="100.40" cy="253.41" r="1.35" fill="#fff" stroke="#F6A2D2" stroke-width="0.8"/>
<circle cx="103.10" cy="250.35" r="1.35" fill="#fff" stroke="#F6A2D2" stroke-width="0.8"/>
<circle cx="105.80" cy="247.63" r="1.35" fill="#fff" stroke="#F6A2D2" stroke-width="0.8"/>
<circle cx="108.50" cy="245.23" r="1.35" fill="#fff" stroke="#F6A2D2" stroke-width="0.8"/>
<circle cx="111.20" cy="243.06" r="1.35" fill="#fff" stroke="#F6A2D2" stroke-width="0.8"/>
<circle cx="113.90" cy="241.09" r="1.35" fill="#fff" stroke="#F6A2D2" stroke-width="0.8"/>
<circle cx="116.60" cy="239.28" r="1.35" fill="#fff" stroke="#F6A2D2" stroke-width="0.8"/>
<circle cx="119.30" cy="237.64" r="1.35" fill="#fff" stroke="#F6A2D2" stroke-width="0.8"/>
<circle cx="122.00" cy="236.30" r="1.35" fill="#fff" stroke="#F6A2D2" stroke-width="0.8"/>
<circle cx="124.70" cy="235.26" r="1.35" fill="#fff" stroke="#F6A2D2" stroke-width="0.8"/>
<circle cx="127.40" cy="234.44" r="1.35" fill="#fff" stroke="#F6A2D2" stroke-width="0.8"/>
<circle cx="130.10" cy="233.72" r="1.35" fill="#fff" stroke="#F6A2D2" stroke-width="0.8"/>
<circle cx="132.80" cy="233.21" r="1.35" fill="#fff" stroke="#F6A2D2" stroke-width="0.8"/>
<circle cx="135.50" cy="232.88" r="1.35" fill="#fff" stroke="#F6A2D2" stroke-width="0.8"/>
<circle cx="138.20" cy="232.65" r="1.35" fill="#fff" stroke="#F6A2D2" stroke-width="0.8"/>
<circle cx="140.90" cy="232.43" r="1.35" fill="#fff" stroke="#F6A2D2" stroke-width="0.8"/>
<circle cx="143.60" cy="232.25" r="1.35" fill="#fff" stroke="#F6A2D2" stroke-width="0.8"/>
<circle cx="146.30" cy="232.10" r="1.35" fill="#fff" stroke="#F6A2D2" stroke-width="0.8"/>
<circle cx="149.00" cy="231.97" r="1.35" fill="#fff" stroke="#F6A2D2" stroke-width="0.8"/>
<circle cx="151.70" cy="231.84" r="1.35" fill="#fff" stroke="#F6A2D2" stroke-width="0.8"/>
<circle cx="154.40" cy="231.72" r="1.35" fill="#fff" stroke="#F6A2D2" stroke-width="0.8"/>
<path d="M57.90,403.00 C58.67,399.07 60.58,388.02 62.50,379.40 C64.42,370.78 66.80,361.53 69.40,351.30 C72.00,341.07 75.67,326.38 78.10,318.00 C80.53,309.62 81.78,306.77 84.00,301.00 C86.22,295.23 88.53,288.73 91.40,283.40 C94.27,278.07 97.55,274.02 101.20,269.00 C104.85,263.98 109.73,257.47 113.30,253.30 C116.87,249.13 119.98,246.33 122.60,244.00 C125.22,241.67 126.10,241.05 129.00,239.30 C131.90,237.55 135.33,235.22 140.00,233.50 C144.67,231.78 154.17,229.75 157.00,229.00" fill="none" stroke="#35A898" stroke-width="0.7" />
<circle cx="57.90" cy="403.00" r="1.35" fill="#fff" stroke="#35A898" stroke-width="0.8"/>
<circle cx="60.60" cy="388.61" r="1.35" fill="#fff" stroke="#35A898" stroke-width="0.8"/>
<circle cx="63.30" cy="375.88" r="1.35" fill="#fff" stroke="#35A898" stroke-width="0.8"/>
<circle cx="66.00" cy="364.73" r="1.35" fill="#fff" stroke="#35A898" stroke-width="0.8"/>
<circle cx="68.70" cy="354.05" r="1.35" fill="#fff" stroke="#35A898" stroke-width="0.8"/>
<circle cx="71.40" cy="343.41" r="1.35" fill="#fff" stroke="#35A898" stroke-width="0.8"/>
<circle cx="74.10" cy="332.84" r="1.35" fill="#fff" stroke="#35A898" stroke-width="0.8"/>
<circle cx="76.80" cy="322.63" r="1.35" fill="#fff" stroke="#35A898" stroke-width="0.8"/>
<circle cx="79.50" cy="313.36" r="1.35" fill="#fff" stroke="#35A898" stroke-width="0.8"/>
<circle cx="82.20" cy="305.65" r="1.35" fill="#fff" stroke="#35A898" stroke-width="0.8"/>
<circle cx="84.90" cy="298.64" r="1.35" fill="#fff" stroke="#35A898" stroke-width="0.8"/>
<circle cx="87.60" cy="291.68" r="1.35" fill="#fff" stroke="#35A898" stroke-width="0.8"/>
<circle cx="90.30" cy="285.55" r="1.35" fill="#fff" stroke="#35A898" stroke-width="0.8"/>
<circle cx="93.00" cy="280.61" r="1.35" fill="#fff" stroke="#35A898" stroke-width="0.8"/>
<circle cx="95.70" cy="276.52" r="1.35" fill="#fff" stroke="#35A898" stroke-width="0.8"/>
<circle cx="98.40" cy="272.79" r="1.35" fill="#fff" stroke="#35A898" stroke-width="0.8"/>
<circle cx="101.10" cy="269.14" r="1.35" fill="#fff" stroke="#35A898" stroke-width="0.8"/>
<circle cx="103.80" cy="265.46" r="1.35" fill="#fff" stroke="#35A898" stroke-width="0.8"/>
<circle cx="106.50" cy="261.86" r="1.35" fill="#fff" stroke="#35A898" stroke-width="0.8"/>
<circle cx="109.20" cy="258.35" r="1.35" fill="#fff" stroke="#35A898" stroke-width="0.8"/>
<circle cx="111.90" cy="254.97" r="1.35" fill="#fff" stroke="#35A898" stroke-width="0.8"/>
<circle cx="114.60" cy="251.82" r="1.35" fill="#fff" stroke="#35A898" stroke-width="0.8"/>
<circle cx="117.30" cy="248.96" r="1.35" fill="#fff" stroke="#35A898" stroke-width="0.8"/>
<circle cx="120.00" cy="246.35" r="1.35" fill="#fff" stroke="#35A898" stroke-width="0.8"/>
<circle cx="122.70" cy="243.91" r="1.35" fill="#fff" stroke="#35A898" stroke-width="0.8"/>
<circle cx="125.40" cy="241.65" r="1.35" fill="#fff" stroke="#35A898" stroke-width="0.8"/>
<circle cx="128.10" cy="239.85" r="1.35" fill="#fff" stroke="#35A898" stroke-width="0.8"/>
<circle cx="130.80" cy="238.20" r="1.35" fill="#fff" stroke="#35A898" stroke-width="0.8"/>
<circle cx="133.50" cy="236.58" r="1.35" fill="#fff" stroke="#35A898" stroke-width="0.8"/>
<circle cx="136.20" cy="235.14" r="1.35" fill="#fff" stroke="#35A898" stroke-width="0.8"/>
<circle cx="138.90" cy="233.93" r="1.35" fill="#fff" stroke="#35A898" stroke-width="0.8"/>
<circle cx="141.60" cy="232.96" r="1.35" fill="#fff" stroke="#35A898" stroke-width="0.8"/>
<circle cx="144.30" cy="232.16" r="1.35" fill="#fff" stroke="#35A898" stroke-width="0.8"/>
<circle cx="147.00" cy="231.44" r="1.35" fill="#fff" stroke="#35A898" stroke-width="0.8"/>
<circle cx="149.70" cy="230.76" r="1.35" fill="#fff" stroke="#35A898" stroke-width="0.8"/>
<circle cx="152.40" cy="230.11" r="1.35" fill="#fff" stroke="#35A898" stroke-width="0.8"/>
<circle cx="155.10" cy="229.47" r="1.35" fill="#fff" stroke="#35A898" stroke-width="0.8"/>
<path d="M55.90,403.00 C56.58,399.07 58.17,388.02 60.00,379.40 C61.83,370.78 64.35,361.53 66.90,351.30 C69.45,341.07 72.85,326.38 75.30,318.00 C77.75,309.62 79.38,306.77 81.60,301.00 C83.82,295.23 85.97,288.73 88.60,283.40 C91.23,278.07 94.07,274.02 97.40,269.00 C100.73,263.98 104.87,257.63 108.60,253.30 C112.33,248.97 116.40,245.95 119.80,243.00 C123.20,240.05 125.63,237.60 129.00,235.60 C132.37,233.60 135.33,232.27 140.00,231.00 C144.67,229.73 154.17,228.50 157.00,228.00" fill="none" stroke="#B2A4F2" stroke-width="0.7" />
<circle cx="55.90" cy="403.00" r="1.35" fill="#fff" stroke="#B2A4F2" stroke-width="0.8"/>
<circle cx="58.60" cy="386.63" r="1.35" fill="#fff" stroke="#B2A4F2" stroke-width="0.8"/>
<circle cx="61.30" cy="373.63" r="1.35" fill="#fff" stroke="#B2A4F2" stroke-width="0.8"/>
<circle cx="64.00" cy="362.73" r="1.35" fill="#fff" stroke="#B2A4F2" stroke-width="0.8"/>
<circle cx="66.70" cy="352.10" r="1.35" fill="#fff" stroke="#B2A4F2" stroke-width="0.8"/>
<circle cx="69.40" cy="341.08" r="1.35" fill="#fff" stroke="#B2A4F2" stroke-width="0.8"/>
<circle cx="72.10" cy="330.07" r="1.35" fill="#fff" stroke="#B2A4F2" stroke-width="0.8"/>
<circle cx="74.80" cy="319.75" r="1.35" fill="#fff" stroke="#B2A4F2" stroke-width="0.8"/>
<circle cx="77.50" cy="311.23" r="1.35" fill="#fff" stroke="#B2A4F2" stroke-width="0.8"/>
<circle cx="80.20" cy="304.49" r="1.35" fill="#fff" stroke="#B2A4F2" stroke-width="0.8"/>
<circle cx="82.90" cy="297.54" r="1.35" fill="#fff" stroke="#B2A4F2" stroke-width="0.8"/>
<circle cx="85.60" cy="290.33" r="1.35" fill="#fff" stroke="#B2A4F2" stroke-width="0.8"/>
<circle cx="88.30" cy="284.02" r="1.35" fill="#fff" stroke="#B2A4F2" stroke-width="0.8"/>
<circle cx="91.00" cy="278.94" r="1.35" fill="#fff" stroke="#B2A4F2" stroke-width="0.8"/>
<circle cx="93.70" cy="274.58" r="1.35" fill="#fff" stroke="#B2A4F2" stroke-width="0.8"/>
<circle cx="96.40" cy="270.50" r="1.35" fill="#fff" stroke="#B2A4F2" stroke-width="0.8"/>
<circle cx="99.10" cy="266.44" r="1.35" fill="#fff" stroke="#B2A4F2" stroke-width="0.8"/>
<circle cx="101.80" cy="262.42" r="1.35" fill="#fff" stroke="#B2A4F2" stroke-width="0.8"/>
<circle cx="104.50" cy="258.56" r="1.35" fill="#fff" stroke="#B2A4F2" stroke-width="0.8"/>
<circle cx="107.20" cy="254.99" r="1.35" fill="#fff" stroke="#B2A4F2" stroke-width="0.8"/>
<circle cx="109.90" cy="251.86" r="1.35" fill="#fff" stroke="#B2A4F2" stroke-width="0.8"/>
<circle cx="112.60" cy="249.18" r="1.35" fill="#fff" stroke="#B2A4F2" stroke-width="0.8"/>
<circle cx="115.30" cy="246.79" r="1.35" fill="#fff" stroke="#B2A4F2" stroke-width="0.8"/>
<circle cx="118.00" cy="244.53" r="1.35" fill="#fff" stroke="#B2A4F2" stroke-width="0.8"/>
<circle cx="120.70" cy="242.21" r="1.35" fill="#fff" stroke="#B2A4F2" stroke-width="0.8"/>
<circle cx="123.40" cy="239.82" r="1.35" fill="#fff" stroke="#B2A4F2" stroke-width="0.8"/>
<circle cx="126.10" cy="237.58" r="1.35" fill="#fff" stroke="#B2A4F2" stroke-width="0.8"/>
<circle cx="128.80" cy="235.72" r="1.35" fill="#fff" stroke="#B2A4F2" stroke-width="0.8"/>
<circle cx="131.50" cy="234.21" r="1.35" fill="#fff" stroke="#B2A4F2" stroke-width="0.8"/>
<circle cx="134.20" cy="232.95" r="1.35" fill="#fff" stroke="#B2A4F2" stroke-width="0.8"/>
<circle cx="136.90" cy="231.93" r="1.35" fill="#fff" stroke="#B2A4F2" stroke-width="0.8"/>
<circle cx="139.60" cy="231.11" r="1.35" fill="#fff" stroke="#B2A4F2" stroke-width="0.8"/>
<circle cx="142.30" cy="230.45" r="1.35" fill="#fff" stroke="#B2A4F2" stroke-width="0.8"/>
<circle cx="145.00" cy="229.92" r="1.35" fill="#fff" stroke="#B2A4F2" stroke-width="0.8"/>
<circle cx="147.70" cy="229.45" r="1.35" fill="#fff" stroke="#B2A4F2" stroke-width="0.8"/>
<circle cx="150.40" cy="229.02" r="1.35" fill="#fff" stroke="#B2A4F2" stroke-width="0.8"/>
<circle cx="153.10" cy="228.61" r="1.35" fill="#fff" stroke="#B2A4F2" stroke-width="0.8"/>
<circle cx="155.80" cy="228.20" r="1.35" fill="#fff" stroke="#B2A4F2" stroke-width="0.8"/>
<path d="M50.70,403.00 C51.38,399.07 53.17,388.02 54.80,379.40 C56.43,370.78 58.48,361.10 60.50,351.30 C62.52,341.50 64.70,328.98 66.90,320.60 C69.10,312.22 71.32,307.43 73.70,301.00 C76.08,294.57 78.33,287.95 81.20,282.00 C84.07,276.05 87.10,270.87 90.90,265.30 C94.70,259.73 99.50,253.25 104.00,248.60 C108.50,243.95 113.73,240.18 117.90,237.40 C122.07,234.62 125.32,233.27 129.00,231.90 C132.68,230.53 136.50,229.95 140.00,229.20 C143.50,228.45 147.17,227.95 150.00,227.40 C152.83,226.85 155.83,226.15 157.00,225.90" fill="none" stroke="#4FA8EA" stroke-width="0.7" />
<circle cx="50.70" cy="403.00" r="1.35" fill="#fff" stroke="#4FA8EA" stroke-width="0.8"/>
<circle cx="53.40" cy="387.12" r="1.35" fill="#fff" stroke="#4FA8EA" stroke-width="0.8"/>
<circle cx="56.10" cy="372.73" r="1.35" fill="#fff" stroke="#4FA8EA" stroke-width="0.8"/>
<circle cx="58.80" cy="359.52" r="1.35" fill="#fff" stroke="#4FA8EA" stroke-width="0.8"/>
<circle cx="61.50" cy="346.31" r="1.35" fill="#fff" stroke="#4FA8EA" stroke-width="0.8"/>
<circle cx="64.20" cy="332.59" r="1.35" fill="#fff" stroke="#4FA8EA" stroke-width="0.8"/>
<circle cx="66.90" cy="320.60" r="1.35" fill="#fff" stroke="#4FA8EA" stroke-width="0.8"/>
<circle cx="69.60" cy="311.81" r="1.35" fill="#fff" stroke="#4FA8EA" stroke-width="0.8"/>
<circle cx="72.30" cy="304.68" r="1.35" fill="#fff" stroke="#4FA8EA" stroke-width="0.8"/>
<circle cx="75.00" cy="297.45" r="1.35" fill="#fff" stroke="#4FA8EA" stroke-width="0.8"/>
<circle cx="77.70" cy="290.20" r="1.35" fill="#fff" stroke="#4FA8EA" stroke-width="0.8"/>
<circle cx="80.40" cy="283.71" r="1.35" fill="#fff" stroke="#4FA8EA" stroke-width="0.8"/>
<circle cx="83.10" cy="278.22" r="1.35" fill="#fff" stroke="#4FA8EA" stroke-width="0.8"/>
<circle cx="85.80" cy="273.34" r="1.35" fill="#fff" stroke="#4FA8EA" stroke-width="0.8"/>
<circle cx="88.50" cy="268.93" r="1.35" fill="#fff" stroke="#4FA8EA" stroke-width="0.8"/>
<circle cx="91.20" cy="264.86" r="1.35" fill="#fff" stroke="#4FA8EA" stroke-width="0.8"/>
<circle cx="93.90" cy="261.02" r="1.35" fill="#fff" stroke="#4FA8EA" stroke-width="0.8"/>
<circle cx="96.60" cy="257.37" r="1.35" fill="#fff" stroke="#4FA8EA" stroke-width="0.8"/>
<circle cx="99.30" cy="253.94" r="1.35" fill="#fff" stroke="#4FA8EA" stroke-width="0.8"/>
<circle cx="102.00" cy="250.76" r="1.35" fill="#fff" stroke="#4FA8EA" stroke-width="0.8"/>
<circle cx="104.70" cy="247.89" r="1.35" fill="#fff" stroke="#4FA8EA" stroke-width="0.8"/>
<circle cx="107.40" cy="245.36" r="1.35" fill="#fff" stroke="#4FA8EA" stroke-width="0.8"/>
<circle cx="110.10" cy="243.07" r="1.35" fill="#fff" stroke="#4FA8EA" stroke-width="0.8"/>
<circle cx="112.80" cy="240.98" r="1.35" fill="#fff" stroke="#4FA8EA" stroke-width="0.8"/>
<circle cx="115.50" cy="239.04" r="1.35" fill="#fff" stroke="#4FA8EA" stroke-width="0.8"/>
<circle cx="118.20" cy="237.20" r="1.35" fill="#fff" stroke="#4FA8EA" stroke-width="0.8"/>
<circle cx="120.90" cy="235.54" r="1.35" fill="#fff" stroke="#4FA8EA" stroke-width="0.8"/>
<circle cx="123.60" cy="234.13" r="1.35" fill="#fff" stroke="#4FA8EA" stroke-width="0.8"/>
<circle cx="126.30" cy="232.94" r="1.35" fill="#fff" stroke="#4FA8EA" stroke-width="0.8"/>
<circle cx="129.00" cy="231.90" r="1.35" fill="#fff" stroke="#4FA8EA" stroke-width="0.8"/>
<circle cx="131.70" cy="231.03" r="1.35" fill="#fff" stroke="#4FA8EA" stroke-width="0.8"/>
<circle cx="134.40" cy="230.36" r="1.35" fill="#fff" stroke="#4FA8EA" stroke-width="0.8"/>
<circle cx="137.10" cy="229.79" r="1.35" fill="#fff" stroke="#4FA8EA" stroke-width="0.8"/>
<circle cx="139.80" cy="229.24" r="1.35" fill="#fff" stroke="#4FA8EA" stroke-width="0.8"/>
<circle cx="142.50" cy="228.71" r="1.35" fill="#fff" stroke="#4FA8EA" stroke-width="0.8"/>
<circle cx="145.20" cy="228.23" r="1.35" fill="#fff" stroke="#4FA8EA" stroke-width="0.8"/>
<circle cx="147.90" cy="227.78" r="1.35" fill="#fff" stroke="#4FA8EA" stroke-width="0.8"/>
<circle cx="150.60" cy="227.28" r="1.35" fill="#fff" stroke="#4FA8EA" stroke-width="0.8"/>
<circle cx="153.30" cy="226.72" r="1.35" fill="#fff" stroke="#4FA8EA" stroke-width="0.8"/>
<circle cx="156.00" cy="226.12" r="1.35" fill="#fff" stroke="#4FA8EA" stroke-width="0.8"/>
</g>
<line x1="91.60" y1="345.90" x2="104.50" y2="345.90" stroke="#F6A2D2" stroke-width="0.9" />
<circle cx="98" cy="345.9" r="1.5" fill="#fff" stroke="#F6A2D2" stroke-width="0.7"/>
<text x="105.70" y="348.30" font-size="6.8" text-anchor="start" fill="#F6A2D2" stroke="#F6A2D2" stroke-width="0.238" font-weight="bold" >Ni-Ni<tspan font-size="4.22" dy="1.70">3</tspan><tspan dy="-1.70">C/NC-400</tspan></text>
<line x1="91.60" y1="356.20" x2="104.50" y2="356.20" stroke="#35A898" stroke-width="0.9" />
<circle cx="98" cy="356.2" r="1.5" fill="#fff" stroke="#35A898" stroke-width="0.7"/>
<text x="105.70" y="358.60" font-size="6.8" text-anchor="start" fill="#35A898" stroke="#35A898" stroke-width="0.238" font-weight="bold" >Ni-Ni<tspan font-size="4.22" dy="1.70">3</tspan><tspan dy="-1.70">C/NC-450</tspan></text>
<line x1="91.60" y1="366.50" x2="104.50" y2="366.50" stroke="#F8A868" stroke-width="0.9" />
<circle cx="98" cy="366.5" r="1.5" fill="#fff" stroke="#F8A868" stroke-width="0.7"/>
<text x="105.70" y="368.90" font-size="6.8" text-anchor="start" fill="#F8A868" stroke="#F8A868" stroke-width="0.238" font-weight="bold" >Ni-Ni<tspan font-size="4.22" dy="1.70">3</tspan><tspan dy="-1.70">C/NC-500</tspan></text>
<line x1="91.60" y1="376.80" x2="104.50" y2="376.80" stroke="#B2A4F2" stroke-width="0.9" />
<circle cx="98" cy="376.79999999999995" r="1.5" fill="#fff" stroke="#B2A4F2" stroke-width="0.7"/>
<text x="105.70" y="379.20" font-size="6.8" text-anchor="start" fill="#B2A4F2" stroke="#B2A4F2" stroke-width="0.238" font-weight="bold" >Ni-Ni<tspan font-size="4.22" dy="1.70">3</tspan><tspan dy="-1.70">C/NC-550</tspan></text>
<line x1="91.60" y1="387.10" x2="104.50" y2="387.10" stroke="#4FA8EA" stroke-width="0.9" />
<circle cx="98" cy="387.09999999999997" r="1.5" fill="#fff" stroke="#4FA8EA" stroke-width="0.7"/>
<text x="105.70" y="389.50" font-size="6.8" text-anchor="start" fill="#4FA8EA" stroke="#4FA8EA" stroke-width="0.238" font-weight="bold" >Ni-Ni<tspan font-size="4.22" dy="1.70">3</tspan><tspan dy="-1.70">C/NC-650</tspan></text>
<rect x="35.70" y="215.40" width="120.40" height="187.60" fill="none" stroke="#555" stroke-width="1.1"/>
<text x="163.40" y="158.20" font-size="17.5" text-anchor="start" fill="#111" stroke="#111" stroke-width="0.000" font-weight="bold" >e</text>
<line x1="184.00" y1="263.10" x2="186.60" y2="263.10" stroke="#555" stroke-width="1" />
<text x="183.70" y="265.60" font-size="7.0" text-anchor="end" fill="#222" stroke="#222" stroke-width="0.245" font-weight="bold" >0</text>
<line x1="184.00" y1="234.24" x2="186.60" y2="234.24" stroke="#555" stroke-width="1" />
<text x="183.70" y="236.74" font-size="7.0" text-anchor="end" fill="#222" stroke="#222" stroke-width="0.245" font-weight="bold" >80</text>
<line x1="184.00" y1="205.37" x2="186.60" y2="205.37" stroke="#555" stroke-width="1" />
<text x="183.70" y="207.87" font-size="7.0" text-anchor="end" fill="#222" stroke="#222" stroke-width="0.245" font-weight="bold" >160</text>
<line x1="184.00" y1="176.51" x2="186.60" y2="176.51" stroke="#555" stroke-width="1" />
<text x="183.70" y="179.01" font-size="7.0" text-anchor="end" fill="#222" stroke="#222" stroke-width="0.245" font-weight="bold" >240</text>
<line x1="185.10" y1="248.67" x2="186.60" y2="248.67" stroke="#555" stroke-width="0.8" />
<line x1="185.10" y1="219.80" x2="186.60" y2="219.80" stroke="#555" stroke-width="0.8" />
<line x1="185.10" y1="190.94" x2="186.60" y2="190.94" stroke="#555" stroke-width="0.8" />
<line x1="185.10" y1="162.08" x2="186.60" y2="162.08" stroke="#555" stroke-width="0.8" />
<text x="264.3" y="275.3" font-size="9.1" text-anchor="middle" fill="#111" font-weight="bold" word-spacing="0.8" stroke="#111" stroke-width="0.319">at 10 mA cm<tspan font-size="4.5" dy="-4">-2</tspan></text>
<text transform="translate(170.3,206) rotate(-90)" font-size="9.3" text-anchor="middle" fill="#111" font-weight="bold" stroke="#111" stroke-width="0.326">Overpotential (mV)</text>
<circle cx="232.3" cy="152.7" r="2.5" fill="#8FA2F0"/>
<text x="232.30" y="161.80" font-size="6.1" text-anchor="middle" fill="#8FA2F0" stroke="#8FA2F0" stroke-width="0.213" font-weight="bold" >Ni<tspan font-size="4.2" dy="1">3</tspan><tspan dy="-1">C@PCN</tspan></text>
<circle cx="283.3" cy="196.7" r="2.5" fill="#1A1A80"/>
<text x="283.30" y="192.60" font-size="6.1" text-anchor="middle" fill="#1A1A80" stroke="#1A1A80" stroke-width="0.213" font-weight="bold" >Ni/Ni<tspan font-size="4.2" dy="1">3</tspan><tspan dy="-1">C-NCNT</tspan></text>
<circle cx="211.8" cy="219.9" r="2.5" fill="#EE1111"/>
<text x="217.50" y="214.30" font-size="6.1" text-anchor="middle" fill="#EE1111" stroke="#EE1111" stroke-width="0.213" font-weight="bold" >Ni<tspan font-size="4.2" dy="1">2</tspan><tspan dy="-1">Mo</tspan><tspan font-size="4.2" dy="1">3</tspan><tspan dy="-1">C@NPC-NCNT</tspan></text>
<circle cx="252.8" cy="215.7" r="2.5" fill="#7A1A9A"/>
<text x="252.50" y="224.80" font-size="6.1" text-anchor="middle" fill="#7A1A9A" stroke="#7A1A9A" stroke-width="0.213" font-weight="bold" >Ni<tspan font-size="4.2" dy="1">3</tspan><tspan dy="-1">C/CNT</tspan></text>
<circle cx="273.1" cy="215.7" r="2.5" fill="#117A22"/>
<text x="272.80" y="211.60" font-size="6.1" text-anchor="middle" fill="#117A22" stroke="#117A22" stroke-width="0.213" font-weight="bold" >Ni<tspan font-size="4.2" dy="1">2</tspan><tspan dy="-1">P/NiO</tspan></text>
<circle cx="303.7" cy="218.4" r="2.5" fill="#8A1010"/>
<text x="306.80" y="214.80" font-size="6.1" text-anchor="middle" fill="#8A1010" stroke="#8A1010" stroke-width="0.213" font-weight="bold" >N-NiO/NF</text>
<circle cx="313.5" cy="221.6" r="2.5" fill="#118A22"/>
<text x="318.80" y="228.80" font-size="6.1" text-anchor="middle" fill="#118A22" stroke="#118A22" stroke-width="0.213" font-weight="bold" >N-doped Ni<tspan font-size="4.2" dy="1">3</tspan><tspan dy="-1">S</tspan><tspan font-size="4.2" dy="1">2</tspan><tspan dy="-1">/NF</tspan></text>
<circle cx="293.3" cy="231" r="2.5" fill="#F060C0"/>
<text x="293.50" y="238.60" font-size="6.1" text-anchor="middle" fill="#F060C0" stroke="#F060C0" stroke-width="0.213" font-weight="bold" >Co-Ex-MoS<tspan font-size="4.2" dy="1">2</tspan></text>
<circle cx="222.3" cy="227.8" r="2.5" fill="#7A7A18"/>
<text x="221.30" y="236.80" font-size="6.1" text-anchor="middle" fill="#7A7A18" stroke="#7A7A18" stroke-width="0.213" font-weight="bold" >Ni-Ni<tspan font-size="4.2" dy="1">3</tspan><tspan dy="-1">C/CC</tspan></text>
<circle cx="242.3" cy="235.6" r="2.5" fill="#1AB8F0"/>
<text x="242.80" y="244.80" font-size="6.1" text-anchor="middle" fill="#1AB8F0" stroke="#1AB8F0" stroke-width="0.213" font-weight="bold" >Ni<tspan font-size="4.2" dy="1">3</tspan><tspan dy="-1">N@CQDs</tspan></text>
<circle cx="262.8" cy="253.3" r="2.5" fill="#FA8A2A"/>
<text x="262.80" y="262.60" font-size="6.1" text-anchor="middle" fill="#FA8A2A" stroke="#FA8A2A" stroke-width="0.213" font-weight="bold" >SGNCs-900</text>
<polygon points="202.00,251.80 203.09,254.70 206.18,254.84 203.76,256.77 204.59,259.76 202.00,258.05 199.41,259.76 200.24,256.77 197.82,254.84 200.91,254.70" fill="#111"/>
<text x="201.80" y="249.80" font-size="6.5" text-anchor="middle" fill="#111" stroke="#111" stroke-width="0.228" font-weight="bold" >This work</text>
<rect x="186.60" y="147.50" width="157.60" height="115.60" fill="none" stroke="#555" stroke-width="1.1"/>
<text x="353.60" y="160.40" font-size="17.5" text-anchor="start" fill="#111" stroke="#111" stroke-width="0.000" font-weight="bold" >f</text>
<line x1="369.70" y1="263.60" x2="372.30" y2="263.60" stroke="#555" stroke-width="1" />
<text x="368.30" y="266.00" font-size="6.8" text-anchor="end" fill="#222" stroke="#222" stroke-width="0.238" font-weight="bold" >0</text>
<line x1="369.70" y1="242.66" x2="372.30" y2="242.66" stroke="#555" stroke-width="1" />
<text x="368.30" y="245.06" font-size="6.8" text-anchor="end" fill="#222" stroke="#222" stroke-width="0.238" font-weight="bold" >2</text>
<line x1="369.70" y1="221.72" x2="372.30" y2="221.72" stroke="#555" stroke-width="1" />
<text x="368.30" y="224.12" font-size="6.8" text-anchor="end" fill="#222" stroke="#222" stroke-width="0.238" font-weight="bold" >4</text>
<line x1="369.70" y1="200.78" x2="372.30" y2="200.78" stroke="#555" stroke-width="1" />
<text x="368.30" y="203.18" font-size="6.8" text-anchor="end" fill="#222" stroke="#222" stroke-width="0.238" font-weight="bold" >6</text>
<line x1="369.70" y1="179.84" x2="372.30" y2="179.84" stroke="#555" stroke-width="1" />
<text x="368.30" y="182.24" font-size="6.8" text-anchor="end" fill="#222" stroke="#222" stroke-width="0.238" font-weight="bold" >8</text>
<line x1="369.70" y1="158.90" x2="372.30" y2="158.90" stroke="#555" stroke-width="1" />
<text x="368.30" y="161.30" font-size="6.8" text-anchor="end" fill="#222" stroke="#222" stroke-width="0.238" font-weight="bold" >10</text>
<line x1="370.80" y1="253.13" x2="372.30" y2="253.13" stroke="#555" stroke-width="0.8" />
<line x1="370.80" y1="232.19" x2="372.30" y2="232.19" stroke="#555" stroke-width="0.8" />
<line x1="370.80" y1="211.25" x2="372.30" y2="211.25" stroke="#555" stroke-width="0.8" />
<line x1="370.80" y1="190.31" x2="372.30" y2="190.31" stroke="#555" stroke-width="0.8" />
<line x1="370.80" y1="169.37" x2="372.30" y2="169.37" stroke="#555" stroke-width="0.8" />
<line x1="372.30" y1="263.60" x2="372.30" y2="266.20" stroke="#555" stroke-width="1" />
<text x="372.30" y="273.10" font-size="6.8" text-anchor="middle" fill="#222" stroke="#222" stroke-width="0.238" font-weight="bold" >0</text>
<line x1="402.30" y1="263.60" x2="402.30" y2="266.20" stroke="#555" stroke-width="1" />
<text x="402.30" y="273.10" font-size="6.8" text-anchor="middle" fill="#222" stroke="#222" stroke-width="0.238" font-weight="bold" >4</text>
<line x1="432.30" y1="263.60" x2="432.30" y2="266.20" stroke="#555" stroke-width="1" />
<text x="432.30" y="273.10" font-size="6.8" text-anchor="middle" fill="#222" stroke="#222" stroke-width="0.238" font-weight="bold" >8</text>
<line x1="462.30" y1="263.60" x2="462.30" y2="266.20" stroke="#555" stroke-width="1" />
<text x="462.30" y="273.10" font-size="6.8" text-anchor="middle" fill="#222" stroke="#222" stroke-width="0.238" font-weight="bold" >12</text>
<line x1="492.30" y1="263.60" x2="492.30" y2="266.20" stroke="#555" stroke-width="1" />
<text x="492.30" y="273.10" font-size="6.8" text-anchor="middle" fill="#222" stroke="#222" stroke-width="0.238" font-weight="bold" >16</text>
<line x1="522.30" y1="263.60" x2="522.30" y2="266.20" stroke="#555" stroke-width="1" />
<text x="522.30" y="273.10" font-size="6.8" text-anchor="middle" fill="#222" stroke="#222" stroke-width="0.238" font-weight="bold" >20</text>
<line x1="387.30" y1="263.60" x2="387.30" y2="265.10" stroke="#555" stroke-width="0.8" />
<line x1="417.30" y1="263.60" x2="417.30" y2="265.10" stroke="#555" stroke-width="0.8" />
<line x1="447.30" y1="263.60" x2="447.30" y2="265.10" stroke="#555" stroke-width="0.8" />
<line x1="477.30" y1="263.60" x2="477.30" y2="265.10" stroke="#555" stroke-width="0.8" />
<line x1="507.30" y1="263.60" x2="507.30" y2="265.10" stroke="#555" stroke-width="0.8" />
<text x="451.3" y="284" font-size="9.4" text-anchor="middle" fill="#111" font-weight="bold" stroke="#111" stroke-width="0.329">Z' (Ω)</text>
<text transform="translate(359.3,209) rotate(-90)" font-size="9.2" text-anchor="middle" fill="#111" font-weight="bold" stroke="#111" stroke-width="0.322">-Z'' (Ω)</text>
<clipPath id="cf"><rect x="372.3" y="147.5" width="157.09999999999997" height="116.10000000000002"/></clipPath>
<g clip-path="url(#cf)">
<path d="M392.00,263.50 C392.33,262.92 393.00,261.33 394.00,260.00 C395.00,258.67 396.48,256.82 398.00,255.50 C399.52,254.18 401.37,252.88 403.10,252.10 C404.83,251.32 406.77,250.55 408.40,250.80 C410.03,251.05 411.77,252.37 412.90,253.60 C414.03,254.83 414.68,256.55 415.20,258.20 C415.72,259.85 415.87,262.62 416.00,263.50" fill="none" stroke="#F58A1F" stroke-width="0.6" />
<circle cx="392.00" cy="263.50" r="1.15" fill="#F58A1F"/>
<circle cx="392.59" cy="262.34" r="1.15" fill="#F58A1F"/>
<circle cx="393.21" cy="261.20" r="1.15" fill="#F58A1F"/>
<circle cx="393.92" cy="260.11" r="1.15" fill="#F58A1F"/>
<circle cx="394.71" cy="259.08" r="1.15" fill="#F58A1F"/>
<circle cx="395.53" cy="258.07" r="1.15" fill="#F58A1F"/>
<circle cx="396.39" cy="257.09" r="1.15" fill="#F58A1F"/>
<circle cx="397.29" cy="256.16" r="1.15" fill="#F58A1F"/>
<circle cx="398.25" cy="255.28" r="1.15" fill="#F58A1F"/>
<circle cx="399.26" cy="254.47" r="1.15" fill="#F58A1F"/>
<circle cx="400.32" cy="253.70" r="1.15" fill="#F58A1F"/>
<circle cx="401.41" cy="253.00" r="1.15" fill="#F58A1F"/>
<circle cx="402.54" cy="252.37" r="1.15" fill="#F58A1F"/>
<circle cx="403.72" cy="251.82" r="1.15" fill="#F58A1F"/>
<circle cx="404.93" cy="251.34" r="1.15" fill="#F58A1F"/>
<circle cx="406.17" cy="250.96" r="1.15" fill="#F58A1F"/>
<circle cx="407.46" cy="250.76" r="1.15" fill="#F58A1F"/>
<circle cx="408.75" cy="250.87" r="1.15" fill="#F58A1F"/>
<circle cx="409.96" cy="251.32" r="1.15" fill="#F58A1F"/>
<circle cx="411.07" cy="251.99" r="1.15" fill="#F58A1F"/>
<circle cx="412.09" cy="252.80" r="1.15" fill="#F58A1F"/>
<circle cx="413.01" cy="253.72" r="1.15" fill="#F58A1F"/>
<circle cx="413.77" cy="254.77" r="1.15" fill="#F58A1F"/>
<circle cx="414.37" cy="255.93" r="1.15" fill="#F58A1F"/>
<circle cx="414.85" cy="257.14" r="1.15" fill="#F58A1F"/>
<circle cx="415.25" cy="258.37" r="1.15" fill="#F58A1F"/>
<circle cx="415.53" cy="259.64" r="1.15" fill="#F58A1F"/>
<circle cx="415.72" cy="260.93" r="1.15" fill="#F58A1F"/>
<circle cx="415.86" cy="262.22" r="1.15" fill="#F58A1F"/>
<path d="M397.00,263.50 C397.38,263.08 398.63,262.58 399.30,261.00 C399.97,259.42 400.37,255.90 401.00,254.00 C401.63,252.10 402.00,251.05 403.10,249.60 C404.20,248.15 405.72,246.27 407.60,245.30 C409.48,244.33 412.13,243.80 414.40,243.80 C416.67,243.80 419.30,244.30 421.20,245.30 C423.10,246.30 424.73,247.93 425.80,249.80 C426.87,251.67 427.23,254.22 427.60,256.50 C427.97,258.78 427.93,262.33 428.00,263.50" fill="none" stroke="#139088" stroke-width="0.6" />
<circle cx="397.00" cy="263.50" r="1.15" fill="#139088"/>
<circle cx="398.10" cy="262.64" r="1.15" fill="#139088"/>
<circle cx="399.01" cy="261.58" r="1.15" fill="#139088"/>
<circle cx="399.55" cy="260.29" r="1.15" fill="#139088"/>
<circle cx="399.89" cy="258.93" r="1.15" fill="#139088"/>
<circle cx="400.17" cy="257.56" r="1.15" fill="#139088"/>
<circle cx="400.45" cy="256.19" r="1.15" fill="#139088"/>
<circle cx="400.76" cy="254.82" r="1.15" fill="#139088"/>
<circle cx="401.17" cy="253.49" r="1.15" fill="#139088"/>
<circle cx="401.65" cy="252.17" r="1.15" fill="#139088"/>
<circle cx="402.24" cy="250.90" r="1.15" fill="#139088"/>
<circle cx="403.00" cy="249.73" r="1.15" fill="#139088"/>
<circle cx="403.86" cy="248.62" r="1.15" fill="#139088"/>
<circle cx="404.78" cy="247.56" r="1.15" fill="#139088"/>
<circle cx="405.77" cy="246.58" r="1.15" fill="#139088"/>
<circle cx="406.88" cy="245.73" r="1.15" fill="#139088"/>
<circle cx="408.11" cy="245.06" r="1.15" fill="#139088"/>
<circle cx="409.42" cy="244.57" r="1.15" fill="#139088"/>
<circle cx="410.77" cy="244.21" r="1.15" fill="#139088"/>
<circle cx="412.15" cy="243.96" r="1.15" fill="#139088"/>
<circle cx="413.54" cy="243.82" r="1.15" fill="#139088"/>
<circle cx="414.94" cy="243.81" r="1.15" fill="#139088"/>
<circle cx="416.34" cy="243.91" r="1.15" fill="#139088"/>
<circle cx="417.72" cy="244.13" r="1.15" fill="#139088"/>
<circle cx="419.08" cy="244.46" r="1.15" fill="#139088"/>
<circle cx="420.40" cy="244.92" r="1.15" fill="#139088"/>
<circle cx="421.65" cy="245.55" r="1.15" fill="#139088"/>
<circle cx="422.80" cy="246.34" r="1.15" fill="#139088"/>
<circle cx="423.85" cy="247.27" r="1.15" fill="#139088"/>
<circle cx="424.79" cy="248.31" r="1.15" fill="#139088"/>
<circle cx="425.59" cy="249.45" r="1.15" fill="#139088"/>
<circle cx="426.24" cy="250.69" r="1.15" fill="#139088"/>
<circle cx="426.70" cy="252.01" r="1.15" fill="#139088"/>
<circle cx="427.05" cy="253.37" r="1.15" fill="#139088"/>
<circle cx="427.31" cy="254.74" r="1.15" fill="#139088"/>
<circle cx="427.54" cy="256.12" r="1.15" fill="#139088"/>
<circle cx="427.73" cy="257.51" r="1.15" fill="#139088"/>
<circle cx="427.84" cy="258.91" r="1.15" fill="#139088"/>
<circle cx="427.91" cy="260.31" r="1.15" fill="#139088"/>
<circle cx="427.95" cy="261.70" r="1.15" fill="#139088"/>
<circle cx="427.98" cy="263.10" r="1.15" fill="#139088"/>
<path d="M399.00,263.50 C399.18,263.25 399.67,263.27 400.10,262.00 C400.53,260.73 400.97,257.93 401.60,255.90 C402.23,253.87 403.02,251.68 403.90,249.80 C404.78,247.92 405.77,246.35 406.90,244.60 C408.03,242.85 409.32,241.07 410.70,239.30 C412.08,237.53 413.57,235.77 415.20,234.00 C416.83,232.23 418.37,230.70 420.50,228.70 C422.63,226.70 424.72,224.05 428.00,222.00 C431.28,219.95 436.45,217.65 440.20,216.40 C443.95,215.15 447.75,214.53 450.50,214.50 C453.25,214.47 454.77,215.45 456.70,216.20 C458.63,216.95 460.55,218.03 462.10,219.00 C463.65,219.97 464.72,220.73 466.00,222.00 C467.28,223.27 468.52,225.05 469.80,226.60 C471.08,228.15 472.55,229.75 473.70,231.30 C474.85,232.85 475.73,234.35 476.70,235.90 C477.67,237.45 478.75,239.05 479.50,240.60 C480.25,242.15 480.80,243.65 481.20,245.20 C481.60,246.75 481.78,249.12 481.90,249.90" fill="none" stroke="#9AA8F2" stroke-width="0.8" />
<circle cx="399.00" cy="263.50" r="1.35" fill="#9AA8F2"/>
<circle cx="400.83" cy="258.99" r="1.35" fill="#9AA8F2"/>
<circle cx="402.16" cy="254.18" r="1.35" fill="#9AA8F2"/>
<circle cx="404.02" cy="249.54" r="1.35" fill="#9AA8F2"/>
<circle cx="406.51" cy="245.20" r="1.35" fill="#9AA8F2"/>
<circle cx="409.34" cy="241.08" r="1.35" fill="#9AA8F2"/>
<circle cx="412.43" cy="237.15" r="1.35" fill="#9AA8F2"/>
<circle cx="415.75" cy="233.41" r="1.35" fill="#9AA8F2"/>
<circle cx="419.27" cy="229.87" r="1.35" fill="#9AA8F2"/>
<circle cx="422.83" cy="226.36" r="1.35" fill="#9AA8F2"/>
<circle cx="426.54" cy="223.01" r="1.35" fill="#9AA8F2"/>
<circle cx="430.81" cy="220.42" r="1.35" fill="#9AA8F2"/>
<circle cx="435.33" cy="218.28" r="1.35" fill="#9AA8F2"/>
<circle cx="439.99" cy="216.47" r="1.35" fill="#9AA8F2"/>
<circle cx="444.81" cy="215.17" r="1.35" fill="#9AA8F2"/>
<circle cx="449.76" cy="214.52" r="1.35" fill="#9AA8F2"/>
<circle cx="454.65" cy="215.34" r="1.35" fill="#9AA8F2"/>
<circle cx="459.22" cy="217.35" r="1.35" fill="#9AA8F2"/>
<circle cx="463.51" cy="219.92" r="1.35" fill="#9AA8F2"/>
<circle cx="467.17" cy="223.30" r="1.35" fill="#9AA8F2"/>
<circle cx="470.30" cy="227.20" r="1.35" fill="#9AA8F2"/>
<circle cx="473.50" cy="231.04" r="1.35" fill="#9AA8F2"/>
<circle cx="476.27" cy="235.20" r="1.35" fill="#9AA8F2"/>
<circle cx="478.90" cy="239.45" r="1.35" fill="#9AA8F2"/>
<circle cx="480.87" cy="244.04" r="1.35" fill="#9AA8F2"/>
<circle cx="481.79" cy="248.94" r="1.35" fill="#9AA8F2"/>
<path d="M396.00,263.50 C396.30,263.25 397.25,263.27 397.80,262.00 C398.35,260.73 398.80,257.93 399.30,255.90 C399.80,253.87 400.17,251.82 400.80,249.80 C401.43,247.78 402.33,245.80 403.10,243.80 C403.87,241.80 404.40,239.82 405.40,237.80 C406.40,235.78 407.97,233.47 409.10,231.70 C410.23,229.93 411.05,228.97 412.20,227.20 C413.35,225.43 414.50,223.23 416.00,221.10 C417.50,218.97 419.45,216.53 421.20,214.40 C422.95,212.27 424.25,210.18 426.50,208.30 C428.75,206.42 432.07,204.43 434.70,203.10 C437.33,201.77 439.78,200.83 442.30,200.30 C444.82,199.77 447.28,199.78 449.80,199.90 C452.32,200.02 454.97,200.42 457.40,201.00 C459.83,201.58 462.27,202.42 464.40,203.40 C466.53,204.38 468.27,205.55 470.20,206.90 C472.13,208.25 474.13,209.88 476.00,211.50 C477.87,213.12 479.77,214.97 481.40,216.60 C483.03,218.23 484.57,219.75 485.80,221.30 C487.03,222.85 487.83,224.05 488.80,225.90 C489.77,227.75 490.90,230.53 491.60,232.40 C492.30,234.27 492.57,235.17 493.00,237.10 C493.43,239.03 493.92,242.25 494.20,244.00 C494.48,245.75 494.62,247.00 494.70,247.60" fill="none" stroke="#12967A" stroke-width="0.8" />
<circle cx="396.00" cy="263.50" r="1.5" fill="#12967A"/>
<circle cx="398.78" cy="258.26" r="1.5" fill="#12967A"/>
<circle cx="400.17" cy="252.11" r="1.5" fill="#12967A"/>
<circle cx="402.16" cy="246.14" r="1.5" fill="#12967A"/>
<circle cx="404.37" cy="240.24" r="1.5" fill="#12967A"/>
<circle cx="407.21" cy="234.64" r="1.5" fill="#12967A"/>
<circle cx="410.69" cy="229.39" r="1.5" fill="#12967A"/>
<circle cx="414.09" cy="224.08" r="1.5" fill="#12967A"/>
<circle cx="417.63" cy="218.88" r="1.5" fill="#12967A"/>
<circle cx="421.56" cy="213.95" r="1.5" fill="#12967A"/>
<circle cx="425.59" cy="209.12" r="1.5" fill="#12967A"/>
<circle cx="430.64" cy="205.38" r="1.5" fill="#12967A"/>
<circle cx="436.18" cy="202.38" r="1.5" fill="#12967A"/>
<circle cx="442.13" cy="200.34" r="1.5" fill="#12967A"/>
<circle cx="448.39" cy="199.85" r="1.5" fill="#12967A"/>
<circle cx="454.66" cy="200.44" r="1.5" fill="#12967A"/>
<circle cx="460.76" cy="201.97" r="1.5" fill="#12967A"/>
<circle cx="466.52" cy="204.50" r="1.5" fill="#12967A"/>
<circle cx="471.74" cy="208.02" r="1.5" fill="#12967A"/>
<circle cx="476.60" cy="212.03" r="1.5" fill="#12967A"/>
<circle cx="481.17" cy="216.37" r="1.5" fill="#12967A"/>
<circle cx="485.50" cy="220.93" r="1.5" fill="#12967A"/>
<circle cx="488.95" cy="226.19" r="1.5" fill="#12967A"/>
<circle cx="491.44" cy="231.98" r="1.5" fill="#12967A"/>
<circle cx="493.19" cy="238.02" r="1.5" fill="#12967A"/>
<circle cx="494.24" cy="244.23" r="1.5" fill="#12967A"/>
<path d="M393.00,263.50 C393.30,263.12 394.25,262.47 394.80,261.20 C395.35,259.93 395.80,257.80 396.30,255.90 C396.80,254.00 397.30,251.68 397.80,249.80 C398.30,247.92 398.80,246.35 399.30,244.60 C399.80,242.85 400.17,241.20 400.80,239.30 C401.43,237.40 402.27,235.08 403.10,233.20 C403.93,231.32 404.92,229.88 405.80,228.00 C406.68,226.12 407.33,224.05 408.40,221.90 C409.47,219.75 410.68,217.25 412.20,215.10 C413.72,212.95 415.75,211.38 417.50,209.00 C419.25,206.62 420.75,203.63 422.70,200.80 C424.65,197.97 426.47,194.55 429.20,192.00 C431.93,189.45 435.95,187.22 439.10,185.50 C442.25,183.78 444.93,182.78 448.10,181.70 C451.27,180.62 454.80,179.53 458.10,179.00 C461.40,178.47 464.52,178.20 467.90,178.50 C471.28,178.80 475.10,179.75 478.40,180.80 C481.70,181.85 484.88,183.43 487.70,184.80 C490.52,186.17 492.78,187.53 495.30,189.00 C497.82,190.47 500.32,191.87 502.80,193.60 C505.28,195.33 507.95,197.58 510.20,199.40 C512.45,201.22 514.35,202.57 516.30,204.50 C518.25,206.43 519.97,208.87 521.90,211.00 C523.83,213.13 526.22,215.47 527.90,217.30 C529.58,219.13 531.32,221.22 532.00,222.00" fill="none" stroke="#F477C0" stroke-width="0.8" />
<circle cx="393.00" cy="263.50" r="1.4" fill="#F477C0"/>
<circle cx="396.49" cy="255.18" r="1.4" fill="#F477C0"/>
<circle cx="398.81" cy="246.28" r="1.4" fill="#F477C0"/>
<circle cx="401.43" cy="237.46" r="1.4" fill="#F477C0"/>
<circle cx="405.25" cy="229.11" r="1.4" fill="#F477C0"/>
<circle cx="408.99" cy="220.71" r="1.4" fill="#F477C0"/>
<circle cx="413.94" cy="213.00" r="1.4" fill="#F477C0"/>
<circle cx="419.60" cy="205.78" r="1.4" fill="#F477C0"/>
<circle cx="424.52" cy="198.02" r="1.4" fill="#F477C0"/>
<circle cx="430.38" cy="190.98" r="1.4" fill="#F477C0"/>
<circle cx="438.12" cy="186.03" r="1.4" fill="#F477C0"/>
<circle cx="446.50" cy="182.26" r="1.4" fill="#F477C0"/>
<circle cx="455.29" cy="179.56" r="1.4" fill="#F477C0"/>
<circle cx="464.40" cy="178.38" r="1.4" fill="#F477C0"/>
<circle cx="473.51" cy="179.44" r="1.4" fill="#F477C0"/>
<circle cx="482.26" cy="182.26" r="1.4" fill="#F477C0"/>
<circle cx="490.54" cy="186.26" r="1.4" fill="#F477C0"/>
<circle cx="498.50" cy="190.87" r="1.4" fill="#F477C0"/>
<circle cx="506.08" cy="196.07" r="1.4" fill="#F477C0"/>
<circle cx="513.26" cy="201.82" r="1.4" fill="#F477C0"/>
<circle cx="519.68" cy="208.38" r="1.4" fill="#F477C0"/>
<circle cx="525.88" cy="215.17" r="1.4" fill="#F477C0"/>
</g>
<rect x="372.30" y="147.50" width="157.10" height="116.10" fill="none" stroke="#555" stroke-width="1.1"/>
<line x1="373.70" y1="152.60" x2="385.60" y2="152.60" stroke="#F46FB8" stroke-width="1" />
<circle cx="379.6" cy="152.6" r="1.2" fill="#F46FB8"/>
<text x="387.30" y="154.90" font-size="6.9" text-anchor="start" fill="#F59BCF" stroke="#F59BCF" stroke-width="0.242" font-weight="bold" >Ni-Ni<tspan font-size="4.28" dy="1.73">3</tspan><tspan dy="-1.73">C/NC 400</tspan></text>
<line x1="373.70" y1="161.15" x2="385.60" y2="161.15" stroke="#0F8A82" stroke-width="1" />
<circle cx="379.6" cy="161.15" r="1.2" fill="#0F8A82"/>
<text x="387.30" y="163.45" font-size="6.9" text-anchor="start" fill="#0F8A82" stroke="#0F8A82" stroke-width="0.242" font-weight="bold" >Ni-Ni<tspan font-size="4.28" dy="1.73">3</tspan><tspan dy="-1.73">C/NC 450</tspan></text>
<line x1="373.70" y1="169.70" x2="385.60" y2="169.70" stroke="#FA8A1E" stroke-width="1" />
<circle cx="379.6" cy="169.7" r="1.2" fill="#FA8A1E"/>
<text x="387.30" y="172.00" font-size="6.9" text-anchor="start" fill="#FA8A1E" stroke="#FA8A1E" stroke-width="0.242" font-weight="bold" >Ni-Ni<tspan font-size="4.28" dy="1.73">3</tspan><tspan dy="-1.73">C/NC 500</tspan></text>
<line x1="373.70" y1="178.25" x2="385.60" y2="178.25" stroke="#9AA8F2" stroke-width="1" />
<circle cx="379.6" cy="178.25" r="1.2" fill="#9AA8F2"/>
<text x="387.30" y="180.55" font-size="6.9" text-anchor="start" fill="#9AA8F2" stroke="#9AA8F2" stroke-width="0.242" font-weight="bold" >Ni-Ni<tspan font-size="4.28" dy="1.73">3</tspan><tspan dy="-1.73">C/NC 550</tspan></text>
<line x1="373.70" y1="186.80" x2="385.60" y2="186.80" stroke="#12967A" stroke-width="1" />
<circle cx="379.6" cy="186.8" r="1.2" fill="#12967A"/>
<text x="387.30" y="189.10" font-size="6.9" text-anchor="start" fill="#12967A" stroke="#12967A" stroke-width="0.242" font-weight="bold" >Ni-Ni<tspan font-size="4.28" dy="1.73">3</tspan><tspan dy="-1.73">C/NC 650</tspan></text>
<text x="162.90" y="298.80" font-size="17.5" text-anchor="start" fill="#111" stroke="#111" stroke-width="0.000" font-weight="bold" >g</text>
<line x1="185.40" y1="291.70" x2="188.00" y2="291.70" stroke="#555" stroke-width="1" />
<text x="184.00" y="294.10" font-size="6.8" text-anchor="end" fill="#222" stroke="#222" stroke-width="0.238" font-weight="bold" >−0</text>
<line x1="185.40" y1="319.32" x2="188.00" y2="319.32" stroke="#555" stroke-width="1" />
<text x="184.00" y="321.72" font-size="6.8" text-anchor="end" fill="#222" stroke="#222" stroke-width="0.238" font-weight="bold" >−50</text>
<line x1="185.40" y1="346.95" x2="188.00" y2="346.95" stroke="#555" stroke-width="1" />
<text x="184.00" y="349.35" font-size="6.8" text-anchor="end" fill="#222" stroke="#222" stroke-width="0.238" font-weight="bold" >−100</text>
<line x1="185.40" y1="374.57" x2="188.00" y2="374.57" stroke="#555" stroke-width="1" />
<text x="184.00" y="376.97" font-size="6.8" text-anchor="end" fill="#222" stroke="#222" stroke-width="0.238" font-weight="bold" >−150</text>
<line x1="185.40" y1="402.20" x2="188.00" y2="402.20" stroke="#555" stroke-width="1" />
<text x="184.00" y="404.60" font-size="6.8" text-anchor="end" fill="#222" stroke="#222" stroke-width="0.238" font-weight="bold" >−200</text>
<line x1="186.50" y1="305.51" x2="188.00" y2="305.51" stroke="#555" stroke-width="0.8" />
<line x1="186.50" y1="333.14" x2="188.00" y2="333.14" stroke="#555" stroke-width="0.8" />
<line x1="186.50" y1="360.76" x2="188.00" y2="360.76" stroke="#555" stroke-width="0.8" />
<line x1="186.50" y1="388.39" x2="188.00" y2="388.39" stroke="#555" stroke-width="0.8" />
<line x1="188.00" y1="402.40" x2="188.00" y2="405.00" stroke="#555" stroke-width="1" />
<text x="188.00" y="412.00" font-size="6.7" text-anchor="middle" fill="#222" stroke="#222" stroke-width="0.235" font-weight="bold" >−0.4</text>
<line x1="225.50" y1="402.40" x2="225.50" y2="405.00" stroke="#555" stroke-width="1" />
<text x="225.50" y="412.00" font-size="6.7" text-anchor="middle" fill="#222" stroke="#222" stroke-width="0.235" font-weight="bold" >−0.3</text>
<line x1="263.00" y1="402.40" x2="263.00" y2="405.00" stroke="#555" stroke-width="1" />
<text x="263.00" y="412.00" font-size="6.7" text-anchor="middle" fill="#222" stroke="#222" stroke-width="0.235" font-weight="bold" >−0.2</text>
<line x1="300.50" y1="402.40" x2="300.50" y2="405.00" stroke="#555" stroke-width="1" />
<text x="300.50" y="412.00" font-size="6.7" text-anchor="middle" fill="#222" stroke="#222" stroke-width="0.235" font-weight="bold" >−0.1</text>
<line x1="338.00" y1="402.40" x2="338.00" y2="405.00" stroke="#555" stroke-width="1" />
<text x="338.00" y="412.00" font-size="6.7" text-anchor="middle" fill="#222" stroke="#222" stroke-width="0.235" font-weight="bold" >−0.0</text>
<line x1="206.75" y1="402.40" x2="206.75" y2="403.90" stroke="#555" stroke-width="0.8" />
<line x1="244.25" y1="402.40" x2="244.25" y2="403.90" stroke="#555" stroke-width="0.8" />
<line x1="281.75" y1="402.40" x2="281.75" y2="403.90" stroke="#555" stroke-width="0.8" />
<line x1="319.25" y1="402.40" x2="319.25" y2="403.90" stroke="#555" stroke-width="0.8" />
<text x="266.20" y="422.60" font-size="9.1" text-anchor="middle" fill="#111" stroke="#111" stroke-width="0.319" font-weight="bold" >E (V vs. RHE)</text>
<text transform="translate(167.8,341) rotate(-90)" font-size="9" text-anchor="middle" fill="#111" font-weight="bold" stroke="#111" stroke-width="0.315">I (mA)</text>
<text x="191.00" y="297.90" font-size="9.1" text-anchor="start" fill="#111" stroke="#111" stroke-width="0.319" font-weight="bold" >Ni-Ni<tspan font-size="5.64" dy="2.27">3</tspan><tspan dy="-2.27">C/NC-500</tspan></text>
<clipPath id="cg"><rect x="188" y="286.5" width="156" height="115.89999999999998"/></clipPath>
<g clip-path="url(#cg)">
<path d="M243.23,403.50 L243.81,401.51 L244.41,399.51 L245.01,397.52 L245.62,395.52 L246.24,393.53 L246.86,391.53 L247.50,389.54 L248.15,387.54 L248.80,385.55 L249.47,383.55 L250.14,381.56 L250.83,379.56 L251.53,377.57 L252.24,375.57 L252.97,373.58 L253.70,371.59 L254.46,369.59 L255.22,367.60 L256.00,365.60 L256.80,363.61 L257.62,361.62 L258.45,359.62 L259.31,357.63 L260.18,355.64 L261.08,353.64 L262.00,351.65 L262.94,349.66 L263.91,347.67 L264.91,345.68 L265.94,343.68 L267.00,341.69 L268.09,339.70 L269.23,337.71 L270.40,335.72 L271.63,333.73 L272.90,331.74 L274.22,329.75 L274.77,328.95 L275.32,328.16 L275.89,327.36 L276.46,326.57 L277.05,325.77 L277.65,324.98 L278.26,324.18 L278.89,323.39 L279.53,322.59 L280.18,321.80 L280.85,321.00 L281.53,320.21 L282.23,319.41 L282.95,318.62 L283.69,317.83 L284.44,317.03 L285.22,316.24 L286.02,315.44 L286.84,314.65 L287.69,313.86 L288.56,313.06 L289.46,312.27 L290.39,311.48 L291.36,310.69 L292.36,309.89 L293.40,309.10 L294.48,308.31 L295.61,307.52 L296.78,306.73 L298.01,305.94 L299.31,305.15 L300.67,304.36 L302.10,303.57 L303.62,302.78 L305.23,302.00 L306.95,301.21 L308.80,300.43 L309.41,300.18 L310.03,299.94 L310.66,299.69 L311.32,299.45 L311.99,299.20 L312.68,298.96 L313.38,298.71 L314.11,298.47 L314.86,298.22 L315.64,297.98 L316.44,297.74 L317.26,297.49 L318.12,297.25 L319.00,297.01 L319.92,296.77 L320.87,296.52 L321.86,296.28 L322.89,296.04 L323.97,295.80 L325.10,295.56 L326.28,295.32 L327.53,295.08 L328.84,294.84 L330.22,294.60 L331.69,294.36 L333.25,294.12 L334.92,293.89 L336.71,293.65 L338.65,293.42 L340.76,293.18 L343.07,292.95 L345.63,292.70 L348.49,292.45" fill="none" stroke="#12A8A8" stroke-width="1.4" />
<path d="M242.33,403.50 L242.92,401.50 L243.52,399.50 L244.13,397.51 L244.74,395.51 L245.37,393.51 L246.00,391.51 L246.64,389.51 L247.29,387.52 L247.95,385.52 L248.63,383.52 L249.31,381.52 L250.00,379.52 L250.71,377.53 L251.43,375.53 L252.16,373.53 L252.90,371.53 L253.66,369.53 L254.43,367.54 L255.22,365.54 L256.03,363.54 L256.85,361.54 L257.69,359.55 L258.55,357.55 L259.44,355.55 L260.34,353.55 L261.27,351.56 L262.22,349.56 L263.20,347.56 L264.21,345.57 L265.24,343.57 L266.31,341.57 L267.42,339.58 L268.57,337.58 L269.75,335.58 L270.98,333.59 L272.26,331.59 L273.60,329.59 L274.15,328.80 L274.71,328.00 L275.28,327.20 L275.87,326.40 L276.46,325.60 L277.06,324.80 L277.68,324.01 L278.31,323.21 L278.96,322.41 L279.62,321.61 L280.29,320.81 L280.98,320.02 L281.69,319.22 L282.41,318.42 L283.15,317.62 L283.92,316.82 L284.70,316.03 L285.50,315.23 L286.33,314.43 L287.19,313.63 L288.07,312.84 L288.98,312.04 L289.92,311.24 L290.89,310.45 L291.90,309.65 L292.95,308.85 L294.04,308.05 L295.18,307.26 L296.37,306.46 L297.61,305.67 L298.91,304.87 L300.28,304.07 L301.73,303.28 L303.26,302.48 L304.89,301.69 L306.63,300.89 L308.49,300.10 L309.10,299.85 L309.73,299.60 L310.37,299.35 L311.03,299.10 L311.71,298.86 L312.40,298.61 L313.12,298.36 L313.85,298.11 L314.61,297.87 L315.39,297.62 L316.20,297.37 L317.03,297.12 L317.89,296.88 L318.78,296.63 L319.71,296.38 L320.67,296.13 L321.67,295.89 L322.71,295.64 L323.80,295.39 L324.94,295.15 L326.13,294.90 L327.39,294.65 L328.71,294.41 L330.10,294.16 L331.58,293.92 L333.16,293.67 L334.85,293.43 L336.66,293.18 L338.61,292.94 L340.74,292.69 L343.07,292.45 L345.63,292.20 L348.49,291.95" fill="none" stroke="#8C8CF0" stroke-width="1.1" stroke-dasharray="1.3 0.5"/>
<path d="M241.43,403.50 L242.03,401.49 L242.63,399.49 L243.25,397.48 L243.87,395.48 L244.50,393.47 L245.13,391.47 L245.78,389.46 L246.44,387.46 L247.11,385.45 L247.78,383.45 L248.47,381.44 L249.17,379.44 L249.88,377.43 L250.61,375.43 L251.35,373.42 L252.10,371.41 L252.86,369.41 L253.64,367.40 L254.44,365.40 L255.25,363.39 L256.08,361.38 L256.93,359.38 L257.80,357.37 L258.69,355.36 L259.60,353.36 L260.54,351.35 L261.50,349.34 L262.49,347.33 L263.50,345.32 L264.55,343.32 L265.63,341.31 L266.75,339.30 L267.90,337.29 L269.10,335.28 L270.34,333.27 L271.63,331.26 L272.98,329.25 L273.54,328.45 L274.10,327.64 L274.68,326.84 L275.27,326.03 L275.87,325.23 L276.48,324.42 L277.10,323.62 L277.74,322.81 L278.39,322.01 L279.05,321.20 L279.73,320.40 L280.43,319.59 L281.14,318.79 L281.87,317.98 L282.62,317.17 L283.39,316.37 L284.18,315.56 L284.99,314.76 L285.83,313.95 L286.69,313.14 L287.58,312.34 L288.50,311.53 L289.45,310.72 L290.43,309.91 L291.45,309.11 L292.51,308.30 L293.61,307.49 L294.75,306.68 L295.95,305.87 L297.20,305.06 L298.52,304.25 L299.90,303.44 L301.36,302.63 L302.91,301.82 L304.55,301.00 L306.30,300.19 L308.18,299.37 L308.80,299.12 L309.43,298.86 L310.08,298.61 L310.75,298.35 L311.43,298.10 L312.13,297.84 L312.85,297.59 L313.59,297.33 L314.36,297.08 L315.15,296.82 L315.96,296.56 L316.80,296.31 L317.67,296.05 L318.57,295.79 L319.50,295.53 L320.47,295.28 L321.48,295.02 L322.53,294.76 L323.63,294.50 L324.78,294.24 L325.98,293.98 L327.25,293.72 L328.58,293.46 L329.99,293.20 L331.48,292.94 L333.07,292.68 L334.77,292.41 L336.60,292.15 L338.57,291.88 L340.72,291.62 L343.07,291.35 L345.63,291.10 L348.49,290.85" fill="none" stroke="#F477C8" stroke-width="1.1" stroke-dasharray="1.3 0.5"/>
</g>
<rect x="188.00" y="286.50" width="156.00" height="115.90" fill="none" stroke="#555" stroke-width="1.1"/>
<line x1="277.00" y1="373.60" x2="289.00" y2="373.60" stroke="#12A8A8" stroke-width="1.3" />
<text x="291.00" y="376.00" font-size="7" text-anchor="start" fill="#111" stroke="#111" stroke-width="0.245" font-weight="bold" >Initial</text>
<line x1="276.20" y1="385.00" x2="289.00" y2="385.00" stroke="#8C7FEE" stroke-width="1.3" stroke-dasharray="1.3 4.1"/>
<text x="291.00" y="387.40" font-size="7" text-anchor="start" fill="#111" stroke="#111" stroke-width="0.245" font-weight="bold" >After 2000 cycles</text>
<line x1="276.20" y1="396.00" x2="289.00" y2="396.00" stroke="#F7A0D0" stroke-width="1.3" stroke-dasharray="1.3 4.1"/>
<text x="291.00" y="398.40" font-size="7" text-anchor="start" fill="#111" stroke="#111" stroke-width="0.245" font-weight="bold" >After 5000 cycles</text>
<text x="349.20" y="299.00" font-size="17.5" text-anchor="start" fill="#111" stroke="#111" stroke-width="0.000" font-weight="bold" >h</text>
<line x1="369.20" y1="303.60" x2="371.80" y2="303.60" stroke="#555" stroke-width="1" />
<text x="367.80" y="306.00" font-size="6.8" text-anchor="end" fill="#222" stroke="#222" stroke-width="0.238" font-weight="bold" >100</text>
<line x1="369.20" y1="332.60" x2="371.80" y2="332.60" stroke="#555" stroke-width="1" />
<text x="367.80" y="335.00" font-size="6.8" text-anchor="end" fill="#222" stroke="#222" stroke-width="0.238" font-weight="bold" >0</text>
<line x1="369.20" y1="361.60" x2="371.80" y2="361.60" stroke="#555" stroke-width="1" />
<text x="367.80" y="364.00" font-size="6.8" text-anchor="end" fill="#222" stroke="#222" stroke-width="0.238" font-weight="bold" >−100</text>
<line x1="369.20" y1="390.60" x2="371.80" y2="390.60" stroke="#555" stroke-width="1" />
<text x="367.80" y="393.00" font-size="6.8" text-anchor="end" fill="#222" stroke="#222" stroke-width="0.238" font-weight="bold" >−200</text>
<line x1="370.30" y1="289.10" x2="371.80" y2="289.10" stroke="#555" stroke-width="0.8" />
<line x1="370.30" y1="318.10" x2="371.80" y2="318.10" stroke="#555" stroke-width="0.8" />
<line x1="370.30" y1="347.10" x2="371.80" y2="347.10" stroke="#555" stroke-width="0.8" />
<line x1="370.30" y1="376.10" x2="371.80" y2="376.10" stroke="#555" stroke-width="0.8" />
<line x1="370.30" y1="405.10" x2="371.80" y2="405.10" stroke="#555" stroke-width="0.8" />
<line x1="371.80" y1="405.40" x2="371.80" y2="408.00" stroke="#555" stroke-width="1" />
<text x="371.80" y="413.40" font-size="6.6" text-anchor="middle" fill="#222" stroke="#222" stroke-width="0.231" font-weight="bold" >0</text>
<line x1="403.16" y1="405.40" x2="403.16" y2="408.00" stroke="#555" stroke-width="1" />
<text x="403.16" y="413.40" font-size="6.6" text-anchor="middle" fill="#222" stroke="#222" stroke-width="0.231" font-weight="bold" >20</text>
<line x1="434.52" y1="405.40" x2="434.52" y2="408.00" stroke="#555" stroke-width="1" />
<text x="434.52" y="413.40" font-size="6.6" text-anchor="middle" fill="#222" stroke="#222" stroke-width="0.231" font-weight="bold" >40</text>
<line x1="465.88" y1="405.40" x2="465.88" y2="408.00" stroke="#555" stroke-width="1" />
<text x="465.88" y="413.40" font-size="6.6" text-anchor="middle" fill="#222" stroke="#222" stroke-width="0.231" font-weight="bold" >60</text>
<line x1="497.24" y1="405.40" x2="497.24" y2="408.00" stroke="#555" stroke-width="1" />
<text x="497.24" y="413.40" font-size="6.6" text-anchor="middle" fill="#222" stroke="#222" stroke-width="0.231" font-weight="bold" >80</text>
<line x1="528.60" y1="405.40" x2="528.60" y2="408.00" stroke="#555" stroke-width="1" />
<text x="528.60" y="413.40" font-size="6.6" text-anchor="middle" fill="#222" stroke="#222" stroke-width="0.231" font-weight="bold" >100</text>
<line x1="387.48" y1="405.40" x2="387.48" y2="406.90" stroke="#555" stroke-width="0.8" />
<line x1="418.84" y1="405.40" x2="418.84" y2="406.90" stroke="#555" stroke-width="0.8" />
<line x1="450.20" y1="405.40" x2="450.20" y2="406.90" stroke="#555" stroke-width="0.8" />
<line x1="481.56" y1="405.40" x2="481.56" y2="406.90" stroke="#555" stroke-width="0.8" />
<line x1="512.92" y1="405.40" x2="512.92" y2="406.90" stroke="#555" stroke-width="0.8" />
<text x="454.30" y="423.30" font-size="9.4" text-anchor="middle" fill="#111" stroke="#111" stroke-width="0.329" font-weight="bold" >Time (h)</text>
<text transform="translate(354.3,343.8) rotate(-90)" font-size="8.4" text-anchor="middle" fill="#111" font-weight="bold" stroke="#111" stroke-width="0.294">Current density (mA cm<tspan font-size="6" dy="-3.3">−2</tspan><tspan dy="3.3">)</tspan></text>
<text x="524.50" y="299.50" font-size="9.3" text-anchor="end" fill="#E8822A" stroke="#E8822A" stroke-width="0.326" font-weight="bold" >Ni-Ni<tspan font-size="6.5">3</tspan>C/NC-500</text>
<path d="M372.00,346.72 L372.40,346.90 L372.93,346.71 L373.55,346.80 L374.24,346.73 L374.99,346.25 L375.76,346.14 L376.55,346.67 L377.31,346.25 L378.04,346.25 L378.70,346.85 L379.30,346.62 L379.87,347.08 L380.41,347.09 L380.94,347.51 L381.47,347.47 L382.01,348.12 L382.57,348.56 L383.16,348.56 L383.80,348.88 L384.50,348.92 L385.23,348.50 L385.95,348.92 L386.69,348.68 L387.46,348.32 L388.26,347.93 L389.12,348.31 L390.04,347.82 L391.03,347.79 L392.11,347.72 L393.30,347.45 L394.61,347.47 L396.04,346.98 L397.57,347.15 L399.18,346.80 L400.85,347.04 L402.55,346.89 L404.27,346.24 L405.98,346.17 L407.67,346.11 L409.30,346.53 L410.86,346.04 L412.36,346.04 L413.83,345.68 L415.28,345.69 L416.76,345.47 L418.27,345.32 L419.86,345.36 L421.54,345.24 L423.35,345.37 L425.30,345.13 L427.48,345.23 L429.92,345.11 L432.53,345.15 L435.26,344.88 L438.03,344.49 L440.76,344.95 L443.40,345.01 L445.86,344.96 L448.09,344.73 L450.00,344.85 L451.55,344.54 L452.78,345.06 L453.77,344.98 L454.58,344.90 L455.29,344.87 L455.99,345.54 L456.73,345.74 L457.60,345.18 L458.66,345.72 L460.00,345.44 L461.60,345.19 L463.36,345.17 L465.26,345.34 L467.28,345.22 L469.38,344.44 L471.52,344.63 L473.69,344.04 L475.84,344.35 L477.96,343.95 L480.00,344.27 L481.96,344.32 L483.86,344.02 L485.73,344.43 L487.59,344.04 L489.46,343.98 L491.38,344.46 L493.37,344.17 L495.45,344.38 L497.65,344.60 L500.00,344.78 L502.64,344.47 L505.63,344.38 L508.85,344.93 L512.19,344.51 L515.55,344.91 L518.81,344.82 L521.85,344.41 L524.57,344.43 L526.86,344.44 L528.60,344.50" fill="none" stroke="#D2650F" stroke-width="2.4" />
<rect x="371.80" y="288.30" width="156.80" height="117.10" fill="none" stroke="#555" stroke-width="1.1"/>
</svg></body></html>
